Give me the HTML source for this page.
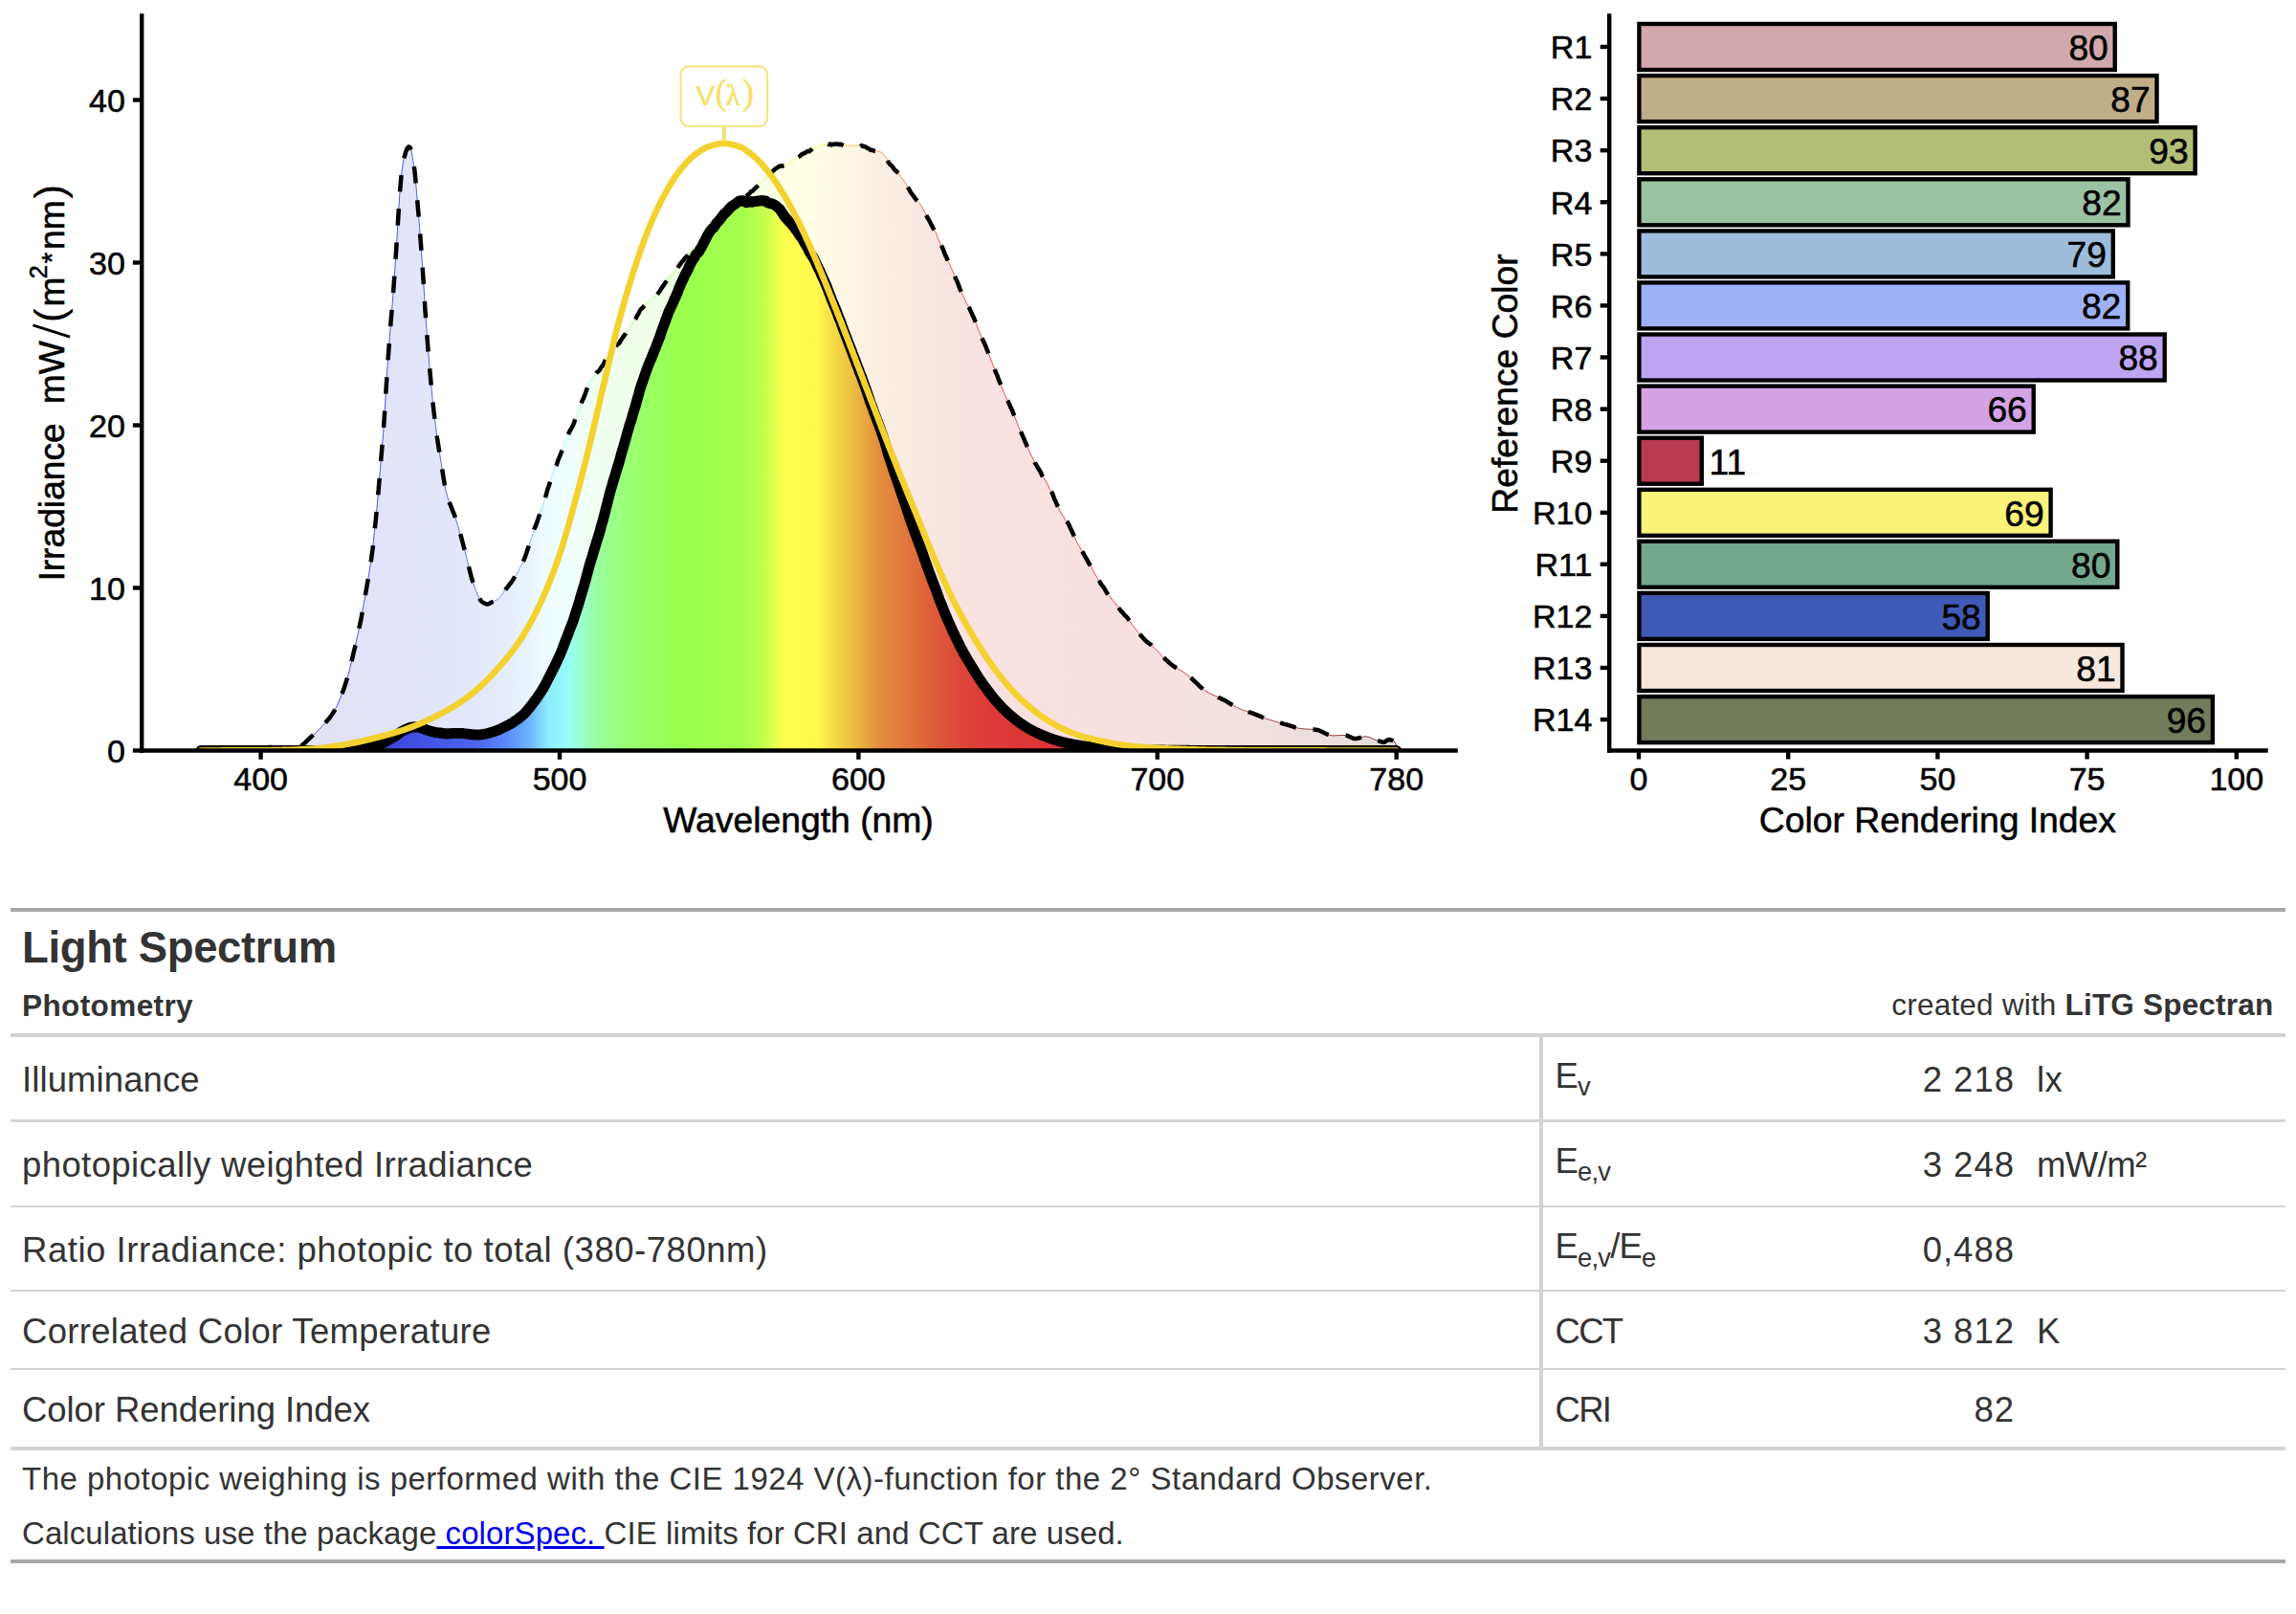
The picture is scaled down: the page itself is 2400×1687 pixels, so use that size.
<!DOCTYPE html>
<html><head><meta charset="utf-8"><title>Light Spectrum</title>
<style>
html,body{margin:0;padding:0;background:#fff;}
body{width:2400px;height:1687px;position:relative;overflow:hidden;font-family:"Liberation Sans",sans-serif;}
sub{font-size:75%;line-height:0;position:relative;vertical-align:baseline;bottom:-0.3em;}
b{font-weight:700}
</style></head>
<body>
<svg width="2400" height="905" viewBox="0 0 2400 905" style="position:absolute;left:0;top:0"><defs><linearGradient id="sp" gradientUnits="userSpaceOnUse" x1="210.1" y1="0" x2="1459.7" y2="0"><stop offset="0.0000" stop-color="rgb(55,40,150)"/><stop offset="0.1000" stop-color="rgb(60,60,200)"/><stop offset="0.1675" stop-color="rgb(63,75,224)"/><stop offset="0.2300" stop-color="rgb(75,100,240)"/><stop offset="0.2565" stop-color="rgb(90,140,250)"/><stop offset="0.2750" stop-color="rgb(110,180,252)"/><stop offset="0.2900" stop-color="rgb(140,235,255)"/><stop offset="0.3063" stop-color="rgb(150,255,250)"/><stop offset="0.3192" stop-color="rgb(155,255,200)"/><stop offset="0.3350" stop-color="rgb(153,255,150)"/><stop offset="0.3613" stop-color="rgb(153,255,110)"/><stop offset="0.4000" stop-color="rgb(153,255,77)"/><stop offset="0.4525" stop-color="rgb(165,255,77)"/><stop offset="0.4713" stop-color="rgb(195,255,77)"/><stop offset="0.4843" stop-color="rgb(245,255,77)"/><stop offset="0.4925" stop-color="rgb(255,255,77)"/><stop offset="0.5150" stop-color="rgb(255,250,77)"/><stop offset="0.5288" stop-color="rgb(245,220,70)"/><stop offset="0.5500" stop-color="rgb(235,180,65)"/><stop offset="0.5650" stop-color="rgb(228,145,62)"/><stop offset="0.5837" stop-color="rgb(225,125,60)"/><stop offset="0.6100" stop-color="rgb(222,95,58)"/><stop offset="0.6362" stop-color="rgb(220,70,56)"/><stop offset="0.6625" stop-color="rgb(220,58,56)"/><stop offset="0.7000" stop-color="rgb(220,52,55)"/><stop offset="0.8000" stop-color="rgb(215,50,52)"/><stop offset="0.8750" stop-color="rgb(170,45,45)"/><stop offset="0.9500" stop-color="rgb(120,35,35)"/><stop offset="1.0000" stop-color="rgb(90,28,28)"/></linearGradient><clipPath id="pc"><rect x="140" y="0" width="1390" height="784.5"/></clipPath></defs><g clip-path="url(#pc)"><path d="M210.1,784.3 L211.7,784.3 L213.2,784.3 L214.8,784.3 L216.4,784.3 L217.9,784.3 L219.5,784.3 L221.1,784.3 L222.6,784.3 L224.2,784.3 L225.7,784.3 L227.3,784.3 L228.9,784.3 L230.4,784.3 L232.0,784.3 L233.6,784.3 L235.1,784.3 L236.7,784.3 L238.2,784.3 L239.8,784.3 L241.4,784.3 L242.9,784.3 L244.5,784.3 L246.0,784.3 L247.6,784.3 L249.2,784.3 L250.7,784.3 L252.3,784.3 L253.9,784.3 L255.4,784.3 L257.0,784.3 L258.5,784.3 L260.1,784.3 L261.7,784.3 L263.2,784.2 L264.8,784.2 L266.4,784.2 L267.9,784.1 L269.5,784.1 L271.0,784.0 L272.6,784.0 L274.2,783.7 L275.7,783.1 L277.3,782.4 L278.8,781.7 L280.4,781.1 L282.0,780.9 L283.5,781.1 L285.1,781.6 L286.7,782.2 L288.2,782.8 L289.8,783.3 L291.3,783.4 L292.9,783.4 L294.5,783.4 L296.0,783.3 L297.6,783.2 L299.2,783.1 L300.7,783.0 L302.3,782.8 L303.8,782.6 L305.4,782.4 L307.0,782.2 L308.5,782.0 L310.1,781.7 L311.7,781.3 L313.2,780.6 L314.8,779.6 L316.3,778.5 L317.9,777.1 L319.5,775.7 L321.0,774.2 L322.6,772.7 L324.1,771.2 L325.7,769.8 L327.3,768.4 L328.8,767.0 L330.4,765.6 L332.0,764.1 L333.5,762.5 L335.1,760.9 L336.6,759.3 L338.2,757.5 L339.8,755.8 L341.3,754.1 L342.9,752.3 L344.5,750.3 L346.0,748.3 L347.6,746.0 L349.1,743.6 L350.7,740.7 L352.3,737.5 L353.8,734.0 L355.4,730.3 L356.9,726.5 L358.5,722.4 L360.1,717.9 L361.6,713.3 L363.2,708.1 L364.8,702.4 L366.3,696.1 L367.9,689.6 L369.4,683.1 L371.0,676.4 L372.6,669.7 L374.1,662.5 L375.7,655.1 L377.3,647.8 L378.8,639.3 L380.4,630.5 L381.9,621.9 L383.5,612.7 L385.1,603.2 L386.6,594.0 L388.2,583.7 L389.8,571.6 L391.3,556.8 L392.9,542.2 L394.4,526.4 L396.0,508.2 L397.6,488.5 L399.1,470.1 L400.7,452.3 L402.2,429.2 L403.8,402.9 L405.4,378.2 L406.9,357.9 L408.5,336.8 L410.1,318.0 L411.6,298.6 L413.2,275.8 L414.7,252.9 L416.3,227.0 L417.9,201.8 L419.4,184.6 L421.0,172.0 L422.6,164.3 L424.1,158.8 L425.7,154.8 L427.2,153.4 L428.8,154.2 L430.4,159.9 L431.9,168.5 L433.5,178.9 L435.0,195.4 L436.6,214.1 L438.2,232.2 L439.7,251.8 L441.3,274.2 L442.9,298.0 L444.4,323.3 L446.0,345.3 L447.5,365.9 L449.1,384.6 L450.7,402.1 L452.2,418.6 L453.8,432.8 L455.4,445.8 L456.9,457.4 L458.5,467.7 L460.0,476.9 L461.6,486.9 L463.2,496.9 L464.7,506.1 L466.3,514.3 L467.9,519.6 L469.4,524.6 L471.0,528.0 L472.5,532.2 L474.1,536.1 L475.7,540.1 L477.2,545.0 L478.8,550.2 L480.3,555.8 L481.9,560.5 L483.5,566.7 L485.0,572.3 L486.6,578.4 L488.2,584.8 L489.7,591.1 L491.3,597.7 L492.8,603.3 L494.4,608.7 L496.0,613.5 L497.5,617.4 L499.1,621.2 L500.7,624.9 L502.2,627.3 L503.8,629.0 L505.3,630.0 L506.9,630.9 L508.5,631.5 L510.0,631.5 L511.6,630.9 L513.1,629.8 L514.7,629.2 L516.3,628.7 L517.8,627.4 L519.4,626.9 L521.0,625.7 L522.5,624.2 L524.1,622.4 L525.6,619.8 L527.2,617.7 L528.8,615.6 L530.3,614.1 L531.9,611.7 L533.5,609.8 L535.0,607.8 L536.6,605.4 L538.1,602.9 L539.7,600.3 L541.3,597.8 L542.8,594.7 L544.4,591.9 L546.0,589.1 L547.5,585.5 L549.1,581.5 L550.6,577.1 L552.2,572.3 L553.8,567.7 L555.3,562.8 L556.9,558.2 L558.4,553.2 L560.0,549.4 L561.6,545.1 L563.1,540.4 L564.7,536.4 L566.3,531.7 L567.8,527.4 L569.4,522.2 L570.9,517.0 L572.5,511.2 L574.1,506.7 L575.6,501.6 L577.2,496.6 L578.8,492.3 L580.3,488.7 L581.9,485.7 L583.4,480.9 L585.0,477.3 L586.6,473.2 L588.1,469.2 L589.7,464.0 L591.2,459.8 L592.8,456.9 L594.4,453.1 L595.9,450.0 L597.5,447.4 L599.1,444.4 L600.6,440.3 L602.2,435.8 L603.7,432.5 L605.3,428.6 L606.9,423.3 L608.4,419.4 L610.0,416.1 L611.6,412.1 L613.1,407.6 L614.7,403.1 L616.2,399.8 L617.8,396.9 L619.4,394.9 L620.9,392.6 L622.5,391.1 L624.0,389.2 L625.6,388.1 L627.2,386.2 L628.7,383.5 L630.3,381.7 L631.9,378.2 L633.4,375.4 L635.0,372.5 L636.5,369.6 L638.1,367.1 L639.7,365.5 L641.2,364.1 L642.8,362.9 L644.4,360.9 L645.9,359.9 L647.5,358.4 L649.0,355.6 L650.6,353.3 L652.2,351.1 L653.7,348.9 L655.3,345.7 L656.9,343.5 L658.4,341.3 L660.0,340.2 L661.5,337.4 L663.1,334.7 L664.7,332.6 L666.2,329.7 L667.8,327.1 L669.3,323.9 L670.9,322.4 L672.5,320.7 L674.0,319.2 L675.6,317.3 L677.2,315.7 L678.7,314.6 L680.3,313.5 L681.8,312.5 L683.4,310.6 L685.0,309.6 L686.5,308.2 L688.1,306.3 L689.7,304.3 L691.2,301.7 L692.8,299.4 L694.3,297.3 L695.9,295.0 L697.5,292.7 L699.0,290.2 L700.6,289.0 L702.2,287.6 L703.7,286.1 L705.3,283.9 L706.8,282.4 L708.4,280.5 L710.0,277.4 L711.5,275.5 L713.1,273.4 L714.6,271.7 L716.2,269.4 L717.8,268.1 L719.3,266.6 L720.9,263.8 L722.5,262.0 L724.0,260.5 L725.6,259.3 L727.1,257.3 L728.7,256.4 L730.3,256.1 L731.8,253.9 L733.4,252.5 L735.0,250.0 L736.5,247.7 L738.1,245.3 L739.6,242.7 L741.2,240.6 L742.8,238.4 L744.3,237.2 L745.9,236.4 L747.4,234.7 L749.0,232.5 L750.6,231.0 L752.1,229.5 L753.7,227.8 L755.3,225.6 L756.8,223.7 L758.4,222.5 L759.9,221.0 L761.5,218.7 L763.1,216.8 L764.6,215.0 L766.2,213.5 L767.8,212.1 L769.3,210.7 L770.9,208.9 L772.4,207.4 L774.0,206.4 L775.6,206.1 L777.1,204.9 L778.7,204.8 L780.2,204.9 L781.8,203.6 L783.4,202.2 L784.9,200.3 L786.5,199.9 L788.1,198.0 L789.6,196.5 L791.2,195.2 L792.7,193.2 L794.3,191.7 L795.9,189.8 L797.4,188.5 L799.0,186.5 L800.6,185.0 L802.1,184.7 L803.7,183.2 L805.2,182.0 L806.8,179.9 L808.4,178.4 L809.9,177.0 L811.5,175.8 L813.1,174.9 L814.6,173.7 L816.2,173.5 L817.7,173.3 L819.3,173.4 L820.9,173.0 L822.4,172.0 L824.0,171.1 L825.5,169.9 L827.1,168.4 L828.7,167.6 L830.2,166.3 L831.8,165.6 L833.4,164.4 L834.9,163.7 L836.5,162.9 L838.0,161.2 L839.6,160.5 L841.2,160.1 L842.7,159.0 L844.3,157.9 L845.9,158.2 L847.4,157.0 L849.0,155.6 L850.5,154.0 L852.1,153.9 L853.7,153.7 L855.2,152.9 L856.8,151.9 L858.4,151.7 L859.9,151.2 L861.5,150.9 L863.0,150.3 L864.6,150.2 L866.2,151.1 L867.7,150.5 L869.3,151.5 L870.8,150.8 L872.4,150.8 L874.0,150.5 L875.5,150.6 L877.1,151.2 L878.7,150.7 L880.2,151.4 L881.8,151.9 L883.3,151.6 L884.9,151.8 L886.5,152.2 L888.0,152.2 L889.6,151.8 L891.2,152.2 L892.7,152.2 L894.3,152.2 L895.8,152.3 L897.4,152.2 L899.0,153.0 L900.5,152.1 L902.1,152.9 L903.6,153.1 L905.2,153.6 L906.8,155.1 L908.3,155.4 L909.9,156.8 L911.5,156.9 L913.0,157.4 L914.6,158.0 L916.1,158.0 L917.7,158.4 L919.3,158.2 L920.8,159.2 L922.4,159.9 L924.0,161.6 L925.5,163.3 L927.1,166.2 L928.6,169.7 L930.2,171.7 L931.8,173.1 L933.3,174.8 L934.9,177.1 L936.5,178.6 L938.0,180.0 L939.6,181.6 L941.1,184.3 L942.7,186.2 L944.3,187.9 L945.8,190.4 L947.4,192.4 L948.9,195.6 L950.5,198.4 L952.1,201.3 L953.6,203.2 L955.2,205.3 L956.8,207.6 L958.3,209.5 L959.9,211.2 L961.4,212.7 L963.0,215.1 L964.6,217.8 L966.1,221.1 L967.7,224.0 L969.3,227.2 L970.8,229.6 L972.4,232.8 L973.9,235.7 L975.5,238.6 L977.1,241.4 L978.6,243.6 L980.2,248.5 L981.7,252.1 L983.3,255.7 L984.9,258.4 L986.4,262.2 L988.0,266.4 L989.6,269.5 L991.1,273.6 L992.7,276.3 L994.2,280.0 L995.8,283.3 L997.4,287.2 L998.9,290.9 L1000.5,294.3 L1002.1,298.4 L1003.6,302.4 L1005.2,305.9 L1006.7,309.6 L1008.3,312.4 L1009.9,315.9 L1011.4,318.9 L1013.0,321.5 L1014.6,325.0 L1016.1,328.3 L1017.7,331.7 L1019.2,335.3 L1020.8,339.6 L1022.4,343.9 L1023.9,347.8 L1025.5,350.9 L1027.0,354.6 L1028.6,358.0 L1030.2,361.5 L1031.7,365.6 L1033.3,369.3 L1034.9,373.5 L1036.4,377.5 L1038.0,381.5 L1039.5,385.4 L1041.1,389.6 L1042.7,393.2 L1044.2,397.5 L1045.8,401.3 L1047.4,405.3 L1048.9,409.7 L1050.5,412.7 L1052.0,416.2 L1053.6,419.3 L1055.2,422.7 L1056.7,426.3 L1058.3,429.6 L1059.8,433.5 L1061.4,437.6 L1063.0,441.4 L1064.5,445.6 L1066.1,449.2 L1067.7,452.6 L1069.2,456.2 L1070.8,459.8 L1072.3,463.3 L1073.9,467.1 L1075.5,470.5 L1077.0,474.0 L1078.6,477.2 L1080.2,480.1 L1081.7,483.7 L1083.3,486.0 L1084.8,488.7 L1086.4,491.3 L1088.0,494.0 L1089.5,497.4 L1091.1,499.7 L1092.7,502.0 L1094.2,504.8 L1095.8,507.8 L1097.3,511.5 L1098.9,513.5 L1100.5,516.7 L1102.0,521.2 L1103.6,524.5 L1105.1,528.2 L1106.7,531.1 L1108.3,534.7 L1109.8,537.2 L1111.4,539.4 L1113.0,542.5 L1114.5,544.3 L1116.1,546.2 L1117.6,549.0 L1119.2,552.7 L1120.8,556.0 L1122.3,559.4 L1123.9,562.9 L1125.5,566.3 L1127.0,569.2 L1128.6,571.7 L1130.1,574.4 L1131.7,577.1 L1133.3,579.9 L1134.8,582.7 L1136.4,585.2 L1137.9,588.2 L1139.5,590.7 L1141.1,593.2 L1142.6,596.3 L1144.2,599.5 L1145.8,602.1 L1147.3,604.6 L1148.9,606.8 L1150.4,609.7 L1152.0,611.8 L1153.6,613.8 L1155.1,616.4 L1156.7,619.2 L1158.3,621.6 L1159.8,623.0 L1161.4,625.0 L1162.9,627.2 L1164.5,629.1 L1166.1,630.4 L1167.6,633.1 L1169.2,635.4 L1170.8,637.4 L1172.3,639.1 L1173.9,640.8 L1175.4,642.7 L1177.0,644.1 L1178.6,646.0 L1180.1,648.0 L1181.7,650.2 L1183.2,652.6 L1184.8,654.7 L1186.4,656.4 L1187.9,658.6 L1189.5,660.7 L1191.1,662.6 L1192.6,664.2 L1194.2,666.1 L1195.7,667.8 L1197.3,669.4 L1198.9,670.7 L1200.4,672.0 L1202.0,673.2 L1203.6,674.3 L1205.1,675.9 L1206.7,677.2 L1208.2,678.6 L1209.8,680.1 L1211.4,682.0 L1212.9,683.7 L1214.5,685.2 L1216.0,686.7 L1217.6,688.5 L1219.2,689.9 L1220.7,691.3 L1222.3,692.7 L1223.9,694.1 L1225.4,695.4 L1227.0,696.4 L1228.5,697.5 L1230.1,698.4 L1231.7,699.3 L1233.2,700.2 L1234.8,701.1 L1236.4,702.1 L1237.9,703.0 L1239.5,704.2 L1241.0,705.5 L1242.6,706.7 L1244.2,707.9 L1245.7,709.2 L1247.3,710.8 L1248.8,712.2 L1250.4,713.7 L1252.0,715.2 L1253.5,716.8 L1255.1,718.2 L1256.7,719.5 L1258.2,720.8 L1259.8,722.0 L1261.3,723.0 L1262.9,723.8 L1264.5,724.7 L1266.0,725.5 L1267.6,726.2 L1269.2,726.9 L1270.7,727.5 L1272.3,728.2 L1273.8,729.0 L1275.4,729.7 L1277.0,730.4 L1278.5,731.2 L1280.1,732.0 L1281.7,732.9 L1283.2,733.8 L1284.8,734.8 L1286.3,735.8 L1287.9,736.7 L1289.5,737.7 L1291.0,738.5 L1292.6,739.3 L1294.1,740.0 L1295.7,740.7 L1297.3,741.3 L1298.8,741.9 L1300.4,742.5 L1302.0,743.0 L1303.5,743.5 L1305.1,744.1 L1306.6,744.6 L1308.2,745.2 L1309.8,745.7 L1311.3,746.3 L1312.9,746.9 L1314.5,747.6 L1316.0,748.2 L1317.6,748.8 L1319.1,749.5 L1320.7,750.1 L1322.3,750.7 L1323.8,751.3 L1325.4,751.8 L1327.0,752.3 L1328.5,752.8 L1330.1,753.3 L1331.6,753.8 L1333.2,754.2 L1334.8,754.6 L1336.3,755.1 L1337.9,755.5 L1339.4,755.9 L1341.0,756.3 L1342.6,756.8 L1344.1,757.2 L1345.7,757.7 L1347.3,758.2 L1348.8,758.7 L1350.4,759.2 L1351.9,759.7 L1353.5,760.2 L1355.1,760.6 L1356.6,761.0 L1358.2,761.3 L1359.8,761.6 L1361.3,761.7 L1362.9,761.9 L1364.4,762.0 L1366.0,762.0 L1367.6,762.1 L1369.1,762.2 L1370.7,762.3 L1372.2,762.4 L1373.8,762.5 L1375.4,762.7 L1376.9,762.9 L1378.5,763.4 L1380.1,764.0 L1381.6,764.7 L1383.2,765.5 L1384.7,766.3 L1386.3,767.0 L1387.9,767.7 L1389.4,768.2 L1391.0,768.6 L1392.6,768.8 L1394.1,768.8 L1395.7,768.8 L1397.2,768.7 L1398.8,768.6 L1400.4,768.6 L1401.9,768.5 L1403.5,768.5 L1405.1,768.5 L1406.6,768.5 L1408.2,768.9 L1409.7,769.6 L1411.3,770.3 L1412.9,771.1 L1414.4,771.7 L1416.0,772.0 L1417.5,772.0 L1419.1,771.7 L1420.7,771.3 L1422.2,770.9 L1423.8,770.4 L1425.4,770.0 L1426.9,769.8 L1428.5,769.9 L1430.0,770.2 L1431.6,770.7 L1433.2,771.4 L1434.7,772.1 L1436.3,772.8 L1437.9,773.4 L1439.4,773.9 L1441.0,774.4 L1442.5,774.9 L1444.1,775.4 L1445.7,775.7 L1447.2,775.7 L1448.8,774.7 L1450.3,773.4 L1451.9,773.1 L1453.5,773.3 L1455.0,773.8 L1456.6,774.7 L1458.2,775.9 L1459.7,779.2 L1459.7,784.5 L210.1,784.5 Z" fill="url(#sp)" fill-opacity="0.15"/><path d="M210.1,784.3 L211.7,784.3 L213.2,784.3 L214.8,784.3 L216.4,784.3 L217.9,784.3 L219.5,784.3 L221.1,784.3 L222.6,784.3 L224.2,784.3 L225.7,784.3 L227.3,784.3 L228.9,784.3 L230.4,784.3 L232.0,784.3 L233.6,784.3 L235.1,784.3 L236.7,784.3 L238.2,784.3 L239.8,784.3 L241.4,784.3 L242.9,784.3 L244.5,784.3 L246.0,784.3 L247.6,784.3 L249.2,784.3 L250.7,784.3 L252.3,784.3 L253.9,784.3 L255.4,784.3 L257.0,784.3 L258.5,784.3 L260.1,784.3 L261.7,784.3 L263.2,784.2 L264.8,784.2 L266.4,784.2 L267.9,784.1 L269.5,784.1 L271.0,784.0 L272.6,784.0 L274.2,783.7 L275.7,783.1 L277.3,782.4 L278.8,781.7 L280.4,781.1 L282.0,780.9 L283.5,781.1 L285.1,781.6 L286.7,782.2 L288.2,782.8 L289.8,783.3 L291.3,783.4 L292.9,783.4 L294.5,783.4 L296.0,783.3 L297.6,783.2 L299.2,783.1 L300.7,783.0 L302.3,782.8 L303.8,782.6 L305.4,782.4 L307.0,782.2 L308.5,782.0 L310.1,781.7 L311.7,781.3 L313.2,780.6 L314.8,779.6 L316.3,778.5 L317.9,777.1 L319.5,775.7 L321.0,774.2 L322.6,772.7 L324.1,771.2 L325.7,769.8 L327.3,768.4 L328.8,767.0 L330.4,765.6 L332.0,764.1 L333.5,762.5 L335.1,760.9 L336.6,759.3 L338.2,757.5 L339.8,755.8 L341.3,754.1 L342.9,752.3 L344.5,750.3 L346.0,748.3 L347.6,746.0 L349.1,743.6 L350.7,740.7 L352.3,737.5 L353.8,734.0 L355.4,730.3 L356.9,726.5 L358.5,722.4 L360.1,717.9 L361.6,713.3 L363.2,708.1 L364.8,702.4 L366.3,696.1 L367.9,689.6 L369.4,683.1 L371.0,676.4 L372.6,669.7 L374.1,662.5 L375.7,655.1 L377.3,647.8 L378.8,639.3 L380.4,630.5 L381.9,621.9 L383.5,612.7 L385.1,603.2 L386.6,594.0 L388.2,583.7 L389.8,571.6 L391.3,556.8 L392.9,542.2 L394.4,526.4 L396.0,508.2 L397.6,488.5 L399.1,470.1 L400.7,452.3 L402.2,429.2 L403.8,402.9 L405.4,378.2 L406.9,357.9 L408.5,336.8 L410.1,318.0 L411.6,298.6 L413.2,275.8 L414.7,252.9 L416.3,227.0 L417.9,201.8 L419.4,184.6 L421.0,172.0 L422.6,164.3 L424.1,158.8 L425.7,154.8 L427.2,153.4 L428.8,154.2 L430.4,159.9 L431.9,168.5 L433.5,178.9 L435.0,195.4 L436.6,214.1 L438.2,232.2 L439.7,251.8 L441.3,274.2 L442.9,298.0 L444.4,323.3 L446.0,345.3 L447.5,365.9 L449.1,384.6 L450.7,402.1 L452.2,418.6 L453.8,432.8 L455.4,445.8 L456.9,457.4 L458.5,467.7 L460.0,476.9 L461.6,486.9 L463.2,496.9 L464.7,506.1 L466.3,514.3 L467.9,519.6 L469.4,524.6 L471.0,528.0 L472.5,532.2 L474.1,536.1 L475.7,540.1 L477.2,545.0 L478.8,550.2 L480.3,555.8 L481.9,560.5 L483.5,566.7 L485.0,572.3 L486.6,578.4 L488.2,584.8 L489.7,591.1 L491.3,597.7 L492.8,603.3 L494.4,608.7 L496.0,613.5 L497.5,617.4 L499.1,621.2 L500.7,624.9 L502.2,627.3 L503.8,629.0 L505.3,630.0 L506.9,630.9 L508.5,631.5 L510.0,631.5 L511.6,630.9 L513.1,629.8 L514.7,629.2 L516.3,628.7 L517.8,627.4 L519.4,626.9 L521.0,625.7 L522.5,624.2 L524.1,622.4 L525.6,619.8 L527.2,617.7 L528.8,615.6 L530.3,614.1 L531.9,611.7 L533.5,609.8 L535.0,607.8 L536.6,605.4 L538.1,602.9 L539.7,600.3 L541.3,597.8 L542.8,594.7 L544.4,591.9 L546.0,589.1 L547.5,585.5 L549.1,581.5 L550.6,577.1 L552.2,572.3 L553.8,567.7 L555.3,562.8 L556.9,558.2 L558.4,553.2 L560.0,549.4 L561.6,545.1 L563.1,540.4 L564.7,536.4 L566.3,531.7 L567.8,527.4 L569.4,522.2 L570.9,517.0 L572.5,511.2 L574.1,506.7 L575.6,501.6 L577.2,496.6 L578.8,492.3 L580.3,488.7 L581.9,485.7 L583.4,480.9 L585.0,477.3 L586.6,473.2 L588.1,469.2 L589.7,464.0 L591.2,459.8 L592.8,456.9 L594.4,453.1 L595.9,450.0 L597.5,447.4 L599.1,444.4 L600.6,440.3 L602.2,435.8 L603.7,432.5 L605.3,428.6 L606.9,423.3 L608.4,419.4 L610.0,416.1 L611.6,412.1 L613.1,407.6 L614.7,403.1 L616.2,399.8 L617.8,396.9 L619.4,394.9 L620.9,392.6 L622.5,391.1 L624.0,389.2 L625.6,388.1 L627.2,386.2 L628.7,383.5 L630.3,381.7 L631.9,378.2 L633.4,375.4 L635.0,372.5 L636.5,369.6 L638.1,367.1 L639.7,365.5 L641.2,364.1 L642.8,362.9 L644.4,360.9 L645.9,359.9 L647.5,358.4 L649.0,355.6 L650.6,353.3 L652.2,351.1 L653.7,348.9 L655.3,345.7 L656.9,343.5 L658.4,341.3 L660.0,340.2 L661.5,337.4 L663.1,334.7 L664.7,332.6 L666.2,329.7 L667.8,327.1 L669.3,323.9 L670.9,322.4 L672.5,320.7 L674.0,319.2 L675.6,317.3 L677.2,315.7 L678.7,314.6 L680.3,313.5 L681.8,312.5 L683.4,310.6 L685.0,309.6 L686.5,308.2 L688.1,306.3 L689.7,304.3 L691.2,301.7 L692.8,299.4 L694.3,297.3 L695.9,295.0 L697.5,292.7 L699.0,290.2 L700.6,289.0 L702.2,287.6 L703.7,286.1 L705.3,283.9 L706.8,282.4 L708.4,280.5 L710.0,277.4 L711.5,275.5 L713.1,273.4 L714.6,271.7 L716.2,269.4 L717.8,268.1 L719.3,266.6 L720.9,263.8 L722.5,262.0 L724.0,260.5 L725.6,259.3 L727.1,257.3 L728.7,256.4 L730.3,256.1 L731.8,253.9 L733.4,252.5 L735.0,250.0 L736.5,247.7 L738.1,245.3 L739.6,242.7 L741.2,240.6 L742.8,238.4 L744.3,237.2 L745.9,236.4 L747.4,234.7 L749.0,232.5 L750.6,231.0 L752.1,229.5 L753.7,227.8 L755.3,225.6 L756.8,223.7 L758.4,222.5 L759.9,221.0 L761.5,218.7 L763.1,216.8 L764.6,215.0 L766.2,213.5 L767.8,212.1 L769.3,210.7 L770.9,208.9 L772.4,207.4 L774.0,206.4 L775.6,206.1 L777.1,204.9 L778.7,204.8 L780.2,204.9 L781.8,203.6 L783.4,202.2 L784.9,200.3 L786.5,199.9 L788.1,198.0 L789.6,196.5 L791.2,195.2 L792.7,193.2 L794.3,191.7 L795.9,189.8 L797.4,188.5 L799.0,186.5 L800.6,185.0 L802.1,184.7 L803.7,183.2 L805.2,182.0 L806.8,179.9 L808.4,178.4 L809.9,177.0 L811.5,175.8 L813.1,174.9 L814.6,173.7 L816.2,173.5 L817.7,173.3 L819.3,173.4 L820.9,173.0 L822.4,172.0 L824.0,171.1 L825.5,169.9 L827.1,168.4 L828.7,167.6 L830.2,166.3 L831.8,165.6 L833.4,164.4 L834.9,163.7 L836.5,162.9 L838.0,161.2 L839.6,160.5 L841.2,160.1 L842.7,159.0 L844.3,157.9 L845.9,158.2 L847.4,157.0 L849.0,155.6 L850.5,154.0 L852.1,153.9 L853.7,153.7 L855.2,152.9 L856.8,151.9 L858.4,151.7 L859.9,151.2 L861.5,150.9 L863.0,150.3 L864.6,150.2 L866.2,151.1 L867.7,150.5 L869.3,151.5 L870.8,150.8 L872.4,150.8 L874.0,150.5 L875.5,150.6 L877.1,151.2 L878.7,150.7 L880.2,151.4 L881.8,151.9 L883.3,151.6 L884.9,151.8 L886.5,152.2 L888.0,152.2 L889.6,151.8 L891.2,152.2 L892.7,152.2 L894.3,152.2 L895.8,152.3 L897.4,152.2 L899.0,153.0 L900.5,152.1 L902.1,152.9 L903.6,153.1 L905.2,153.6 L906.8,155.1 L908.3,155.4 L909.9,156.8 L911.5,156.9 L913.0,157.4 L914.6,158.0 L916.1,158.0 L917.7,158.4 L919.3,158.2 L920.8,159.2 L922.4,159.9 L924.0,161.6 L925.5,163.3 L927.1,166.2 L928.6,169.7 L930.2,171.7 L931.8,173.1 L933.3,174.8 L934.9,177.1 L936.5,178.6 L938.0,180.0 L939.6,181.6 L941.1,184.3 L942.7,186.2 L944.3,187.9 L945.8,190.4 L947.4,192.4 L948.9,195.6 L950.5,198.4 L952.1,201.3 L953.6,203.2 L955.2,205.3 L956.8,207.6 L958.3,209.5 L959.9,211.2 L961.4,212.7 L963.0,215.1 L964.6,217.8 L966.1,221.1 L967.7,224.0 L969.3,227.2 L970.8,229.6 L972.4,232.8 L973.9,235.7 L975.5,238.6 L977.1,241.4 L978.6,243.6 L980.2,248.5 L981.7,252.1 L983.3,255.7 L984.9,258.4 L986.4,262.2 L988.0,266.4 L989.6,269.5 L991.1,273.6 L992.7,276.3 L994.2,280.0 L995.8,283.3 L997.4,287.2 L998.9,290.9 L1000.5,294.3 L1002.1,298.4 L1003.6,302.4 L1005.2,305.9 L1006.7,309.6 L1008.3,312.4 L1009.9,315.9 L1011.4,318.9 L1013.0,321.5 L1014.6,325.0 L1016.1,328.3 L1017.7,331.7 L1019.2,335.3 L1020.8,339.6 L1022.4,343.9 L1023.9,347.8 L1025.5,350.9 L1027.0,354.6 L1028.6,358.0 L1030.2,361.5 L1031.7,365.6 L1033.3,369.3 L1034.9,373.5 L1036.4,377.5 L1038.0,381.5 L1039.5,385.4 L1041.1,389.6 L1042.7,393.2 L1044.2,397.5 L1045.8,401.3 L1047.4,405.3 L1048.9,409.7 L1050.5,412.7 L1052.0,416.2 L1053.6,419.3 L1055.2,422.7 L1056.7,426.3 L1058.3,429.6 L1059.8,433.5 L1061.4,437.6 L1063.0,441.4 L1064.5,445.6 L1066.1,449.2 L1067.7,452.6 L1069.2,456.2 L1070.8,459.8 L1072.3,463.3 L1073.9,467.1 L1075.5,470.5 L1077.0,474.0 L1078.6,477.2 L1080.2,480.1 L1081.7,483.7 L1083.3,486.0 L1084.8,488.7 L1086.4,491.3 L1088.0,494.0 L1089.5,497.4 L1091.1,499.7 L1092.7,502.0 L1094.2,504.8 L1095.8,507.8 L1097.3,511.5 L1098.9,513.5 L1100.5,516.7 L1102.0,521.2 L1103.6,524.5 L1105.1,528.2 L1106.7,531.1 L1108.3,534.7 L1109.8,537.2 L1111.4,539.4 L1113.0,542.5 L1114.5,544.3 L1116.1,546.2 L1117.6,549.0 L1119.2,552.7 L1120.8,556.0 L1122.3,559.4 L1123.9,562.9 L1125.5,566.3 L1127.0,569.2 L1128.6,571.7 L1130.1,574.4 L1131.7,577.1 L1133.3,579.9 L1134.8,582.7 L1136.4,585.2 L1137.9,588.2 L1139.5,590.7 L1141.1,593.2 L1142.6,596.3 L1144.2,599.5 L1145.8,602.1 L1147.3,604.6 L1148.9,606.8 L1150.4,609.7 L1152.0,611.8 L1153.6,613.8 L1155.1,616.4 L1156.7,619.2 L1158.3,621.6 L1159.8,623.0 L1161.4,625.0 L1162.9,627.2 L1164.5,629.1 L1166.1,630.4 L1167.6,633.1 L1169.2,635.4 L1170.8,637.4 L1172.3,639.1 L1173.9,640.8 L1175.4,642.7 L1177.0,644.1 L1178.6,646.0 L1180.1,648.0 L1181.7,650.2 L1183.2,652.6 L1184.8,654.7 L1186.4,656.4 L1187.9,658.6 L1189.5,660.7 L1191.1,662.6 L1192.6,664.2 L1194.2,666.1 L1195.7,667.8 L1197.3,669.4 L1198.9,670.7 L1200.4,672.0 L1202.0,673.2 L1203.6,674.3 L1205.1,675.9 L1206.7,677.2 L1208.2,678.6 L1209.8,680.1 L1211.4,682.0 L1212.9,683.7 L1214.5,685.2 L1216.0,686.7 L1217.6,688.5 L1219.2,689.9 L1220.7,691.3 L1222.3,692.7 L1223.9,694.1 L1225.4,695.4 L1227.0,696.4 L1228.5,697.5 L1230.1,698.4 L1231.7,699.3 L1233.2,700.2 L1234.8,701.1 L1236.4,702.1 L1237.9,703.0 L1239.5,704.2 L1241.0,705.5 L1242.6,706.7 L1244.2,707.9 L1245.7,709.2 L1247.3,710.8 L1248.8,712.2 L1250.4,713.7 L1252.0,715.2 L1253.5,716.8 L1255.1,718.2 L1256.7,719.5 L1258.2,720.8 L1259.8,722.0 L1261.3,723.0 L1262.9,723.8 L1264.5,724.7 L1266.0,725.5 L1267.6,726.2 L1269.2,726.9 L1270.7,727.5 L1272.3,728.2 L1273.8,729.0 L1275.4,729.7 L1277.0,730.4 L1278.5,731.2 L1280.1,732.0 L1281.7,732.9 L1283.2,733.8 L1284.8,734.8 L1286.3,735.8 L1287.9,736.7 L1289.5,737.7 L1291.0,738.5 L1292.6,739.3 L1294.1,740.0 L1295.7,740.7 L1297.3,741.3 L1298.8,741.9 L1300.4,742.5 L1302.0,743.0 L1303.5,743.5 L1305.1,744.1 L1306.6,744.6 L1308.2,745.2 L1309.8,745.7 L1311.3,746.3 L1312.9,746.9 L1314.5,747.6 L1316.0,748.2 L1317.6,748.8 L1319.1,749.5 L1320.7,750.1 L1322.3,750.7 L1323.8,751.3 L1325.4,751.8 L1327.0,752.3 L1328.5,752.8 L1330.1,753.3 L1331.6,753.8 L1333.2,754.2 L1334.8,754.6 L1336.3,755.1 L1337.9,755.5 L1339.4,755.9 L1341.0,756.3 L1342.6,756.8 L1344.1,757.2 L1345.7,757.7 L1347.3,758.2 L1348.8,758.7 L1350.4,759.2 L1351.9,759.7 L1353.5,760.2 L1355.1,760.6 L1356.6,761.0 L1358.2,761.3 L1359.8,761.6 L1361.3,761.7 L1362.9,761.9 L1364.4,762.0 L1366.0,762.0 L1367.6,762.1 L1369.1,762.2 L1370.7,762.3 L1372.2,762.4 L1373.8,762.5 L1375.4,762.7 L1376.9,762.9 L1378.5,763.4 L1380.1,764.0 L1381.6,764.7 L1383.2,765.5 L1384.7,766.3 L1386.3,767.0 L1387.9,767.7 L1389.4,768.2 L1391.0,768.6 L1392.6,768.8 L1394.1,768.8 L1395.7,768.8 L1397.2,768.7 L1398.8,768.6 L1400.4,768.6 L1401.9,768.5 L1403.5,768.5 L1405.1,768.5 L1406.6,768.5 L1408.2,768.9 L1409.7,769.6 L1411.3,770.3 L1412.9,771.1 L1414.4,771.7 L1416.0,772.0 L1417.5,772.0 L1419.1,771.7 L1420.7,771.3 L1422.2,770.9 L1423.8,770.4 L1425.4,770.0 L1426.9,769.8 L1428.5,769.9 L1430.0,770.2 L1431.6,770.7 L1433.2,771.4 L1434.7,772.1 L1436.3,772.8 L1437.9,773.4 L1439.4,773.9 L1441.0,774.4 L1442.5,774.9 L1444.1,775.4 L1445.7,775.7 L1447.2,775.7 L1448.8,774.7 L1450.3,773.4 L1451.9,773.1 L1453.5,773.3 L1455.0,773.8 L1456.6,774.7 L1458.2,775.9 L1459.7,779.2" fill="none" stroke="url(#sp)" stroke-width="0.9"/><path d="M210.1,784.5 L211.7,784.5 L213.2,784.5 L214.8,784.5 L216.4,784.5 L217.9,784.5 L219.5,784.5 L221.1,784.5 L222.6,784.5 L224.2,784.5 L225.7,784.5 L227.3,784.5 L228.9,784.5 L230.4,784.5 L232.0,784.5 L233.6,784.5 L235.1,784.5 L236.7,784.5 L238.2,784.5 L239.8,784.5 L241.4,784.5 L242.9,784.5 L244.5,784.5 L246.0,784.5 L247.6,784.5 L249.2,784.5 L250.7,784.5 L252.3,784.5 L253.9,784.5 L255.4,784.5 L257.0,784.5 L258.5,784.5 L260.1,784.5 L261.7,784.5 L263.2,784.5 L264.8,784.5 L266.4,784.5 L267.9,784.5 L269.5,784.5 L271.0,784.5 L272.6,784.5 L274.2,784.5 L275.7,784.5 L277.3,784.5 L278.8,784.5 L280.4,784.5 L282.0,784.5 L283.5,784.5 L285.1,784.5 L286.7,784.5 L288.2,784.5 L289.8,784.5 L291.3,784.5 L292.9,784.5 L294.5,784.5 L296.0,784.5 L297.6,784.5 L299.2,784.5 L300.7,784.5 L302.3,784.5 L303.8,784.5 L305.4,784.5 L307.0,784.5 L308.5,784.5 L310.1,784.5 L311.7,784.5 L313.2,784.5 L314.8,784.5 L316.3,784.5 L317.9,784.5 L319.5,784.5 L321.0,784.5 L322.6,784.5 L324.1,784.5 L325.7,784.5 L327.3,784.5 L328.8,784.4 L330.4,784.4 L332.0,784.4 L333.5,784.4 L335.1,784.4 L336.6,784.4 L338.2,784.4 L339.8,784.4 L341.3,784.3 L342.9,784.3 L344.5,784.3 L346.0,784.3 L347.6,784.2 L349.1,784.2 L350.7,784.2 L352.3,784.1 L353.8,784.1 L355.4,784.0 L356.9,784.0 L358.5,783.9 L360.1,783.8 L361.6,783.8 L363.2,783.7 L364.8,783.6 L366.3,783.5 L367.9,783.4 L369.4,783.2 L371.0,783.1 L372.6,782.9 L374.1,782.8 L375.7,782.6 L377.3,782.4 L378.8,782.2 L380.4,782.0 L381.9,781.8 L383.5,781.5 L385.1,781.2 L386.6,781.0 L388.2,780.6 L389.8,780.3 L391.3,779.8 L392.9,779.4 L394.4,778.9 L396.0,778.3 L397.6,777.7 L399.1,777.1 L400.7,776.4 L402.2,775.6 L403.8,774.7 L405.4,773.8 L406.9,773.0 L408.5,772.1 L410.1,771.3 L411.6,770.4 L413.2,769.3 L414.7,768.3 L416.3,767.0 L417.9,765.8 L419.4,764.8 L421.0,763.9 L422.6,763.1 L424.1,762.4 L425.7,761.7 L427.2,761.1 L428.8,760.5 L430.4,760.2 L431.9,760.0 L433.5,759.8 L435.0,759.9 L436.6,760.1 L438.2,760.3 L439.7,760.6 L441.3,761.1 L442.9,761.7 L444.4,762.4 L446.0,762.9 L447.5,763.5 L449.1,763.9 L450.7,764.4 L452.2,764.8 L453.8,765.2 L455.4,765.5 L456.9,765.7 L458.5,765.9 L460.0,766.0 L461.6,766.3 L463.2,766.5 L464.7,766.7 L466.3,766.9 L467.9,766.8 L469.4,766.8 L471.0,766.7 L472.5,766.6 L474.1,766.5 L475.7,766.4 L477.2,766.4 L478.8,766.4 L480.3,766.5 L481.9,766.5 L483.5,766.6 L485.0,766.7 L486.6,766.9 L488.2,767.1 L489.7,767.3 L491.3,767.5 L492.8,767.7 L494.4,767.8 L496.0,767.9 L497.5,767.9 L499.1,768.0 L500.7,768.0 L502.2,767.9 L503.8,767.7 L505.3,767.5 L506.9,767.2 L508.5,766.9 L510.0,766.5 L511.6,766.1 L513.1,765.5 L514.7,765.0 L516.3,764.6 L517.8,764.0 L519.4,763.5 L521.0,762.9 L522.5,762.2 L524.1,761.5 L525.6,760.7 L527.2,759.9 L528.8,759.1 L530.3,758.4 L531.9,757.5 L533.5,756.6 L535.0,755.8 L536.6,754.8 L538.1,753.7 L539.7,752.7 L541.3,751.6 L542.8,750.4 L544.4,749.1 L546.0,747.9 L547.5,746.4 L549.1,744.9 L550.6,743.1 L552.2,741.3 L553.8,739.4 L555.3,737.4 L556.9,735.4 L558.4,733.2 L560.0,731.2 L561.6,729.0 L563.1,726.7 L564.7,724.4 L566.3,721.9 L567.8,719.5 L569.4,716.7 L570.9,713.8 L572.5,710.6 L574.1,707.7 L575.6,704.6 L577.2,701.4 L578.8,698.2 L580.3,695.2 L581.9,692.2 L583.4,688.6 L585.0,685.3 L586.6,681.6 L588.1,677.8 L589.7,673.5 L591.2,669.4 L592.8,665.5 L594.4,661.3 L595.9,657.2 L597.5,653.2 L599.1,649.0 L600.6,644.3 L602.2,639.3 L603.7,634.7 L605.3,629.7 L606.9,624.0 L608.4,618.8 L610.0,613.8 L611.6,608.3 L613.1,602.4 L614.7,596.5 L616.2,591.0 L617.8,585.6 L619.4,580.6 L620.9,575.3 L622.5,570.3 L624.0,565.0 L625.6,560.2 L627.2,554.8 L628.7,549.0 L630.3,543.7 L631.9,537.4 L633.4,531.4 L635.0,525.3 L636.5,519.1 L638.1,513.1 L639.7,507.7 L641.2,502.5 L642.8,497.4 L644.4,491.8 L645.9,487.0 L647.5,482.0 L649.0,476.1 L650.6,470.6 L652.2,465.2 L653.7,459.9 L655.3,453.8 L656.9,448.5 L658.4,443.2 L660.0,438.9 L661.5,433.2 L663.1,427.7 L664.7,422.7 L666.2,417.0 L667.8,411.5 L669.3,405.7 L670.9,401.1 L672.5,396.6 L674.0,392.2 L675.6,387.5 L677.2,383.3 L678.7,379.4 L680.3,375.7 L681.8,372.1 L683.4,367.8 L685.0,364.3 L686.5,360.4 L688.1,356.3 L689.7,352.0 L691.2,347.3 L692.8,342.9 L694.3,338.8 L695.9,334.5 L697.5,330.2 L699.0,325.9 L700.6,322.6 L702.2,319.4 L703.7,316.0 L705.3,312.1 L706.8,308.9 L708.4,305.3 L710.0,300.7 L711.5,297.3 L713.1,293.8 L714.6,290.6 L716.2,287.0 L717.8,284.2 L719.3,281.4 L720.9,277.5 L722.5,274.4 L724.0,271.8 L725.6,269.7 L727.1,266.7 L728.7,264.9 L730.3,263.7 L731.8,260.6 L733.4,258.4 L735.0,255.0 L736.5,252.0 L738.1,249.0 L739.6,245.9 L741.2,243.3 L742.8,240.8 L744.3,239.1 L745.9,238.0 L747.4,235.9 L749.0,233.3 L750.6,231.6 L752.1,229.9 L753.7,228.0 L755.3,225.7 L756.8,223.7 L758.4,222.5 L759.9,221.1 L761.5,219.1 L763.1,217.4 L764.6,215.9 L766.2,214.8 L767.8,213.7 L769.3,212.7 L770.9,211.3 L772.4,210.3 L774.0,209.8 L775.6,210.2 L777.1,209.7 L778.7,210.5 L780.2,211.7 L781.8,211.4 L783.4,211.1 L784.9,210.5 L786.5,211.3 L788.1,210.6 L789.6,210.3 L791.2,210.4 L792.7,209.9 L794.3,209.9 L795.9,209.6 L797.4,210.0 L799.0,209.8 L800.6,210.2 L802.1,211.7 L803.7,212.1 L805.2,212.8 L806.8,212.8 L808.4,213.5 L809.9,214.3 L811.5,215.5 L813.1,216.8 L814.6,218.1 L816.2,220.3 L817.7,222.5 L819.3,225.1 L820.9,227.2 L822.4,228.9 L824.0,230.7 L825.5,232.4 L827.1,233.8 L828.7,235.9 L830.2,237.7 L831.8,240.0 L833.4,242.0 L834.9,244.4 L836.5,246.8 L838.0,248.5 L839.6,251.2 L841.2,254.1 L842.7,256.6 L844.3,259.0 L845.9,262.8 L847.4,265.2 L849.0,267.6 L850.5,269.8 L852.1,273.3 L853.7,276.8 L855.2,279.8 L856.8,282.8 L858.4,286.4 L859.9,289.8 L861.5,293.3 L863.0,296.7 L864.6,300.5 L866.2,305.0 L867.7,308.4 L869.3,313.1 L870.8,316.5 L872.4,320.3 L874.0,324.1 L875.5,328.1 L877.1,332.5 L878.7,336.1 L880.2,340.6 L881.8,344.9 L883.3,348.7 L884.9,352.9 L886.5,357.1 L888.0,361.2 L889.6,365.0 L891.2,369.3 L892.7,373.4 L894.3,377.4 L895.8,381.6 L897.4,385.5 L899.0,390.1 L900.5,393.6 L902.1,398.1 L903.6,402.3 L905.2,406.6 L906.8,411.6 L908.3,415.8 L909.9,420.7 L911.5,424.7 L913.0,429.1 L914.6,433.4 L916.1,437.4 L917.7,441.7 L919.3,445.6 L920.8,450.1 L922.4,454.5 L924.0,459.3 L925.5,464.2 L927.1,469.6 L928.6,475.3 L930.2,480.1 L931.8,484.6 L933.3,489.2 L934.9,494.1 L936.5,498.6 L938.0,503.0 L939.6,507.5 L941.1,512.4 L942.7,516.9 L944.3,521.3 L945.8,526.0 L947.4,530.5 L948.9,535.4 L950.5,540.1 L952.1,544.8 L953.6,549.1 L955.2,553.4 L956.8,557.8 L958.3,562.0 L959.9,566.1 L961.4,570.1 L963.0,574.4 L964.6,578.9 L966.1,583.5 L967.7,587.9 L969.3,592.4 L970.8,596.6 L972.4,600.9 L973.9,605.1 L975.5,609.3 L977.1,613.3 L978.6,617.1 L980.2,621.7 L981.7,625.9 L983.3,630.0 L984.9,633.7 L986.4,637.7 L988.0,641.7 L989.6,645.3 L991.1,649.1 L992.7,652.4 L994.2,655.9 L995.8,659.3 L997.4,662.7 L998.9,666.0 L1000.5,669.1 L1002.1,672.4 L1003.6,675.5 L1005.2,678.5 L1006.7,681.4 L1008.3,684.2 L1009.9,687.0 L1011.4,689.6 L1013.0,692.1 L1014.6,694.8 L1016.1,697.3 L1017.7,699.8 L1019.2,702.3 L1020.8,704.9 L1022.4,707.4 L1023.9,709.8 L1025.5,712.0 L1027.0,714.3 L1028.6,716.4 L1030.2,718.6 L1031.7,720.7 L1033.3,722.8 L1034.9,724.9 L1036.4,726.9 L1038.0,728.8 L1039.5,730.7 L1041.1,732.6 L1042.7,734.3 L1044.2,736.1 L1045.8,737.8 L1047.4,739.5 L1048.9,741.1 L1050.5,742.6 L1052.0,744.0 L1053.6,745.4 L1055.2,746.8 L1056.7,748.1 L1058.3,749.4 L1059.8,750.7 L1061.4,752.0 L1063.0,753.2 L1064.5,754.4 L1066.1,755.6 L1067.7,756.6 L1069.2,757.7 L1070.8,758.7 L1072.3,759.7 L1073.9,760.7 L1075.5,761.6 L1077.0,762.5 L1078.6,763.4 L1080.2,764.2 L1081.7,765.0 L1083.3,765.7 L1084.8,766.5 L1086.4,767.1 L1088.0,767.8 L1089.5,768.5 L1091.1,769.1 L1092.7,769.7 L1094.2,770.3 L1095.8,770.9 L1097.3,771.5 L1098.9,772.0 L1100.5,772.6 L1102.0,773.1 L1103.6,773.6 L1105.1,774.1 L1106.7,774.6 L1108.3,775.1 L1109.8,775.5 L1111.4,775.8 L1113.0,776.2 L1114.5,776.6 L1116.1,776.9 L1117.6,777.2 L1119.2,777.5 L1120.8,777.9 L1122.3,778.2 L1123.9,778.5 L1125.5,778.8 L1127.0,779.0 L1128.6,779.2 L1130.1,779.5 L1131.7,779.7 L1133.3,779.9 L1134.8,780.1 L1136.4,780.3 L1137.9,780.5 L1139.5,780.6 L1141.1,780.8 L1142.6,781.0 L1144.2,781.1 L1145.8,781.3 L1147.3,781.4 L1148.9,781.6 L1150.4,781.7 L1152.0,781.8 L1153.6,782.0 L1155.1,782.1 L1156.7,782.2 L1158.3,782.3 L1159.8,782.4 L1161.4,782.5 L1162.9,782.6 L1164.5,782.7 L1166.1,782.8 L1167.6,782.9 L1169.2,783.0 L1170.8,783.0 L1172.3,783.1 L1173.9,783.2 L1175.4,783.2 L1177.0,783.3 L1178.6,783.4 L1180.1,783.4 L1181.7,783.5 L1183.2,783.5 L1184.8,783.6 L1186.4,783.6 L1187.9,783.7 L1189.5,783.7 L1191.1,783.8 L1192.6,783.8 L1194.2,783.8 L1195.7,783.9 L1197.3,783.9 L1198.9,783.9 L1200.4,783.9 L1202.0,784.0 L1203.6,784.0 L1205.1,784.0 L1206.7,784.0 L1208.2,784.1 L1209.8,784.1 L1211.4,784.1 L1212.9,784.1 L1214.5,784.1 L1216.0,784.1 L1217.6,784.2 L1219.2,784.2 L1220.7,784.2 L1222.3,784.2 L1223.9,784.2 L1225.4,784.2 L1227.0,784.3 L1228.5,784.3 L1230.1,784.3 L1231.7,784.3 L1233.2,784.3 L1234.8,784.3 L1236.4,784.3 L1237.9,784.3 L1239.5,784.3 L1241.0,784.3 L1242.6,784.3 L1244.2,784.4 L1245.7,784.4 L1247.3,784.4 L1248.8,784.4 L1250.4,784.4 L1252.0,784.4 L1253.5,784.4 L1255.1,784.4 L1256.7,784.4 L1258.2,784.4 L1259.8,784.4 L1261.3,784.4 L1262.9,784.4 L1264.5,784.4 L1266.0,784.4 L1267.6,784.4 L1269.2,784.4 L1270.7,784.4 L1272.3,784.4 L1273.8,784.4 L1275.4,784.4 L1277.0,784.4 L1278.5,784.5 L1280.1,784.5 L1281.7,784.5 L1283.2,784.5 L1284.8,784.5 L1286.3,784.5 L1287.9,784.5 L1289.5,784.5 L1291.0,784.5 L1292.6,784.5 L1294.1,784.5 L1295.7,784.5 L1297.3,784.5 L1298.8,784.5 L1300.4,784.5 L1302.0,784.5 L1303.5,784.5 L1305.1,784.5 L1306.6,784.5 L1308.2,784.5 L1309.8,784.5 L1311.3,784.5 L1312.9,784.5 L1314.5,784.5 L1316.0,784.5 L1317.6,784.5 L1319.1,784.5 L1320.7,784.5 L1322.3,784.5 L1323.8,784.5 L1325.4,784.5 L1327.0,784.5 L1328.5,784.5 L1330.1,784.5 L1331.6,784.5 L1333.2,784.5 L1334.8,784.5 L1336.3,784.5 L1337.9,784.5 L1339.4,784.5 L1341.0,784.5 L1342.6,784.5 L1344.1,784.5 L1345.7,784.5 L1347.3,784.5 L1348.8,784.5 L1350.4,784.5 L1351.9,784.5 L1353.5,784.5 L1355.1,784.5 L1356.6,784.5 L1358.2,784.5 L1359.8,784.5 L1361.3,784.5 L1362.9,784.5 L1364.4,784.5 L1366.0,784.5 L1367.6,784.5 L1369.1,784.5 L1370.7,784.5 L1372.2,784.5 L1373.8,784.5 L1375.4,784.5 L1376.9,784.5 L1378.5,784.5 L1380.1,784.5 L1381.6,784.5 L1383.2,784.5 L1384.7,784.5 L1386.3,784.5 L1387.9,784.5 L1389.4,784.5 L1391.0,784.5 L1392.6,784.5 L1394.1,784.5 L1395.7,784.5 L1397.2,784.5 L1398.8,784.5 L1400.4,784.5 L1401.9,784.5 L1403.5,784.5 L1405.1,784.5 L1406.6,784.5 L1408.2,784.5 L1409.7,784.5 L1411.3,784.5 L1412.9,784.5 L1414.4,784.5 L1416.0,784.5 L1417.5,784.5 L1419.1,784.5 L1420.7,784.5 L1422.2,784.5 L1423.8,784.5 L1425.4,784.5 L1426.9,784.5 L1428.5,784.5 L1430.0,784.5 L1431.6,784.5 L1433.2,784.5 L1434.7,784.5 L1436.3,784.5 L1437.9,784.5 L1439.4,784.5 L1441.0,784.5 L1442.5,784.5 L1444.1,784.5 L1445.7,784.5 L1447.2,784.5 L1448.8,784.5 L1450.3,784.5 L1451.9,784.5 L1453.5,784.5 L1455.0,784.5 L1456.6,784.5 L1458.2,784.5 L1459.7,784.5 L1459.7,784.5 L210.1,784.5 Z" fill="url(#sp)"/><path d="M210.1,784.5 L211.7,784.5 L213.2,784.5 L214.8,784.5 L216.4,784.5 L217.9,784.5 L219.5,784.5 L221.1,784.5 L222.6,784.5 L224.2,784.5 L225.7,784.5 L227.3,784.5 L228.9,784.5 L230.4,784.5 L232.0,784.5 L233.6,784.5 L235.1,784.5 L236.7,784.5 L238.2,784.5 L239.8,784.5 L241.4,784.5 L242.9,784.5 L244.5,784.5 L246.0,784.5 L247.6,784.5 L249.2,784.5 L250.7,784.5 L252.3,784.5 L253.9,784.5 L255.4,784.5 L257.0,784.5 L258.5,784.5 L260.1,784.5 L261.7,784.5 L263.2,784.5 L264.8,784.5 L266.4,784.5 L267.9,784.5 L269.5,784.5 L271.0,784.5 L272.6,784.5 L274.2,784.5 L275.7,784.5 L277.3,784.5 L278.8,784.5 L280.4,784.5 L282.0,784.5 L283.5,784.5 L285.1,784.5 L286.7,784.5 L288.2,784.5 L289.8,784.5 L291.3,784.5 L292.9,784.5 L294.5,784.5 L296.0,784.5 L297.6,784.5 L299.2,784.5 L300.7,784.5 L302.3,784.5 L303.8,784.5 L305.4,784.5 L307.0,784.5 L308.5,784.5 L310.1,784.5 L311.7,784.5 L313.2,784.5 L314.8,784.5 L316.3,784.5 L317.9,784.5 L319.5,784.5 L321.0,784.5 L322.6,784.5 L324.1,784.5 L325.7,784.5 L327.3,784.5 L328.8,784.4 L330.4,784.4 L332.0,784.4 L333.5,784.4 L335.1,784.4 L336.6,784.4 L338.2,784.4 L339.8,784.4 L341.3,784.3 L342.9,784.3 L344.5,784.3 L346.0,784.3 L347.6,784.2 L349.1,784.2 L350.7,784.2 L352.3,784.1 L353.8,784.1 L355.4,784.0 L356.9,784.0 L358.5,783.9 L360.1,783.8 L361.6,783.8 L363.2,783.7 L364.8,783.6 L366.3,783.5 L367.9,783.4 L369.4,783.2 L371.0,783.1 L372.6,782.9 L374.1,782.8 L375.7,782.6 L377.3,782.4 L378.8,782.2 L380.4,782.0 L381.9,781.8 L383.5,781.5 L385.1,781.2 L386.6,781.0 L388.2,780.6 L389.8,780.3 L391.3,779.8 L392.9,779.4 L394.4,778.9 L396.0,778.3 L397.6,777.7 L399.1,777.1 L400.7,776.4 L402.2,775.6 L403.8,774.7 L405.4,773.8 L406.9,773.0 L408.5,772.1 L410.1,771.3 L411.6,770.4 L413.2,769.3 L414.7,768.3 L416.3,767.0 L417.9,765.8 L419.4,764.8 L421.0,763.9 L422.6,763.1 L424.1,762.4 L425.7,761.7 L427.2,761.1 L428.8,760.5 L430.4,760.2 L431.9,760.0 L433.5,759.8 L435.0,759.9 L436.6,760.1 L438.2,760.3 L439.7,760.6 L441.3,761.1 L442.9,761.7 L444.4,762.4 L446.0,762.9 L447.5,763.5 L449.1,763.9 L450.7,764.4 L452.2,764.8 L453.8,765.2 L455.4,765.5 L456.9,765.7 L458.5,765.9 L460.0,766.0 L461.6,766.3 L463.2,766.5 L464.7,766.7 L466.3,766.9 L467.9,766.8 L469.4,766.8 L471.0,766.7 L472.5,766.6 L474.1,766.5 L475.7,766.4 L477.2,766.4 L478.8,766.4 L480.3,766.5 L481.9,766.5 L483.5,766.6 L485.0,766.7 L486.6,766.9 L488.2,767.1 L489.7,767.3 L491.3,767.5 L492.8,767.7 L494.4,767.8 L496.0,767.9 L497.5,767.9 L499.1,768.0 L500.7,768.0 L502.2,767.9 L503.8,767.7 L505.3,767.5 L506.9,767.2 L508.5,766.9 L510.0,766.5 L511.6,766.1 L513.1,765.5 L514.7,765.0 L516.3,764.6 L517.8,764.0 L519.4,763.5 L521.0,762.9 L522.5,762.2 L524.1,761.5 L525.6,760.7 L527.2,759.9 L528.8,759.1 L530.3,758.4 L531.9,757.5 L533.5,756.6 L535.0,755.8 L536.6,754.8 L538.1,753.7 L539.7,752.7 L541.3,751.6 L542.8,750.4 L544.4,749.1 L546.0,747.9 L547.5,746.4 L549.1,744.9 L550.6,743.1 L552.2,741.3 L553.8,739.4 L555.3,737.4 L556.9,735.4 L558.4,733.2 L560.0,731.2 L561.6,729.0 L563.1,726.7 L564.7,724.4 L566.3,721.9 L567.8,719.5 L569.4,716.7 L570.9,713.8 L572.5,710.6 L574.1,707.7 L575.6,704.6 L577.2,701.4 L578.8,698.2 L580.3,695.2 L581.9,692.2 L583.4,688.6 L585.0,685.3 L586.6,681.6 L588.1,677.8 L589.7,673.5 L591.2,669.4 L592.8,665.5 L594.4,661.3 L595.9,657.2 L597.5,653.2 L599.1,649.0 L600.6,644.3 L602.2,639.3 L603.7,634.7 L605.3,629.7 L606.9,624.0 L608.4,618.8 L610.0,613.8 L611.6,608.3 L613.1,602.4 L614.7,596.5 L616.2,591.0 L617.8,585.6 L619.4,580.6 L620.9,575.3 L622.5,570.3 L624.0,565.0 L625.6,560.2 L627.2,554.8 L628.7,549.0 L630.3,543.7 L631.9,537.4 L633.4,531.4 L635.0,525.3 L636.5,519.1 L638.1,513.1 L639.7,507.7 L641.2,502.5 L642.8,497.4 L644.4,491.8 L645.9,487.0 L647.5,482.0 L649.0,476.1 L650.6,470.6 L652.2,465.2 L653.7,459.9 L655.3,453.8 L656.9,448.5 L658.4,443.2 L660.0,438.9 L661.5,433.2 L663.1,427.7 L664.7,422.7 L666.2,417.0 L667.8,411.5 L669.3,405.7 L670.9,401.1 L672.5,396.6 L674.0,392.2 L675.6,387.5 L677.2,383.3 L678.7,379.4 L680.3,375.7 L681.8,372.1 L683.4,367.8 L685.0,364.3 L686.5,360.4 L688.1,356.3 L689.7,352.0 L691.2,347.3 L692.8,342.9 L694.3,338.8 L695.9,334.5 L697.5,330.2 L699.0,325.9 L700.6,322.6 L702.2,319.4 L703.7,316.0 L705.3,312.1 L706.8,308.9 L708.4,305.3 L710.0,300.7 L711.5,297.3 L713.1,293.8 L714.6,290.6 L716.2,287.0 L717.8,284.2 L719.3,281.4 L720.9,277.5 L722.5,274.4 L724.0,271.8 L725.6,269.7 L727.1,266.7 L728.7,264.9 L730.3,263.7 L731.8,260.6 L733.4,258.4 L735.0,255.0 L736.5,252.0 L738.1,249.0 L739.6,245.9 L741.2,243.3 L742.8,240.8 L744.3,239.1 L745.9,238.0 L747.4,235.9 L749.0,233.3 L750.6,231.6 L752.1,229.9 L753.7,228.0 L755.3,225.7 L756.8,223.7 L758.4,222.5 L759.9,221.1 L761.5,219.1 L763.1,217.4 L764.6,215.9 L766.2,214.8 L767.8,213.7 L769.3,212.7 L770.9,211.3 L772.4,210.3 L774.0,209.8 L775.6,210.2 L777.1,209.7 L778.7,210.5 L780.2,211.7 L781.8,211.4 L783.4,211.1 L784.9,210.5 L786.5,211.3 L788.1,210.6 L789.6,210.3 L791.2,210.4 L792.7,209.9 L794.3,209.9 L795.9,209.6 L797.4,210.0 L799.0,209.8 L800.6,210.2 L802.1,211.7 L803.7,212.1 L805.2,212.8 L806.8,212.8 L808.4,213.5 L809.9,214.3 L811.5,215.5 L813.1,216.8 L814.6,218.1 L816.2,220.3 L817.7,222.5 L819.3,225.1 L820.9,227.2 L822.4,228.9 L824.0,230.7 L825.5,232.4 L827.1,233.8 L828.7,235.9 L830.2,237.7 L831.8,240.0 L833.4,242.0 L834.9,244.4 L836.5,246.8 L838.0,248.5 L839.6,251.2 L841.2,254.1 L842.7,256.6 L844.3,259.0 L845.9,262.8 L847.4,265.2 L849.0,267.6 L850.5,269.8 L852.1,273.3 L853.7,276.8 L855.2,279.8 L856.8,282.8 L858.4,286.4 L859.9,289.8 L861.5,293.3 L863.0,296.7 L864.6,300.5 L866.2,305.0 L867.7,308.4 L869.3,313.1 L870.8,316.5 L872.4,320.3 L874.0,324.1 L875.5,328.1 L877.1,332.5 L878.7,336.1 L880.2,340.6 L881.8,344.9 L883.3,348.7 L884.9,352.9 L886.5,357.1 L888.0,361.2 L889.6,365.0 L891.2,369.3 L892.7,373.4 L894.3,377.4 L895.8,381.6 L897.4,385.5 L899.0,390.1 L900.5,393.6 L902.1,398.1 L903.6,402.3 L905.2,406.6 L906.8,411.6 L908.3,415.8 L909.9,420.7 L911.5,424.7 L913.0,429.1 L914.6,433.4 L916.1,437.4 L917.7,441.7 L919.3,445.6 L920.8,450.1 L922.4,454.5 L924.0,459.3 L925.5,464.2 L927.1,469.6 L928.6,475.3 L930.2,480.1 L931.8,484.6 L933.3,489.2 L934.9,494.1 L936.5,498.6 L938.0,503.0 L939.6,507.5 L941.1,512.4 L942.7,516.9 L944.3,521.3 L945.8,526.0 L947.4,530.5 L948.9,535.4 L950.5,540.1 L952.1,544.8 L953.6,549.1 L955.2,553.4 L956.8,557.8 L958.3,562.0 L959.9,566.1 L961.4,570.1 L963.0,574.4 L964.6,578.9 L966.1,583.5 L967.7,587.9 L969.3,592.4 L970.8,596.6 L972.4,600.9 L973.9,605.1 L975.5,609.3 L977.1,613.3 L978.6,617.1 L980.2,621.7 L981.7,625.9 L983.3,630.0 L984.9,633.7 L986.4,637.7 L988.0,641.7 L989.6,645.3 L991.1,649.1 L992.7,652.4 L994.2,655.9 L995.8,659.3 L997.4,662.7 L998.9,666.0 L1000.5,669.1 L1002.1,672.4 L1003.6,675.5 L1005.2,678.5 L1006.7,681.4 L1008.3,684.2 L1009.9,687.0 L1011.4,689.6 L1013.0,692.1 L1014.6,694.8 L1016.1,697.3 L1017.7,699.8 L1019.2,702.3 L1020.8,704.9 L1022.4,707.4 L1023.9,709.8 L1025.5,712.0 L1027.0,714.3 L1028.6,716.4 L1030.2,718.6 L1031.7,720.7 L1033.3,722.8 L1034.9,724.9 L1036.4,726.9 L1038.0,728.8 L1039.5,730.7 L1041.1,732.6 L1042.7,734.3 L1044.2,736.1 L1045.8,737.8 L1047.4,739.5 L1048.9,741.1 L1050.5,742.6 L1052.0,744.0 L1053.6,745.4 L1055.2,746.8 L1056.7,748.1 L1058.3,749.4 L1059.8,750.7 L1061.4,752.0 L1063.0,753.2 L1064.5,754.4 L1066.1,755.6 L1067.7,756.6 L1069.2,757.7 L1070.8,758.7 L1072.3,759.7 L1073.9,760.7 L1075.5,761.6 L1077.0,762.5 L1078.6,763.4 L1080.2,764.2 L1081.7,765.0 L1083.3,765.7 L1084.8,766.5 L1086.4,767.1 L1088.0,767.8 L1089.5,768.5 L1091.1,769.1 L1092.7,769.7 L1094.2,770.3 L1095.8,770.9 L1097.3,771.5 L1098.9,772.0 L1100.5,772.6 L1102.0,773.1 L1103.6,773.6 L1105.1,774.1 L1106.7,774.6 L1108.3,775.1 L1109.8,775.5 L1111.4,775.8 L1113.0,776.2 L1114.5,776.6 L1116.1,776.9 L1117.6,777.2 L1119.2,777.5 L1120.8,777.9 L1122.3,778.2 L1123.9,778.5 L1125.5,778.8 L1127.0,779.0 L1128.6,779.2 L1130.1,779.5 L1131.7,779.7 L1133.3,779.9 L1134.8,780.1 L1136.4,780.3 L1137.9,780.5 L1139.5,780.6 L1141.1,780.8 L1142.6,781.0 L1144.2,781.1 L1145.8,781.3 L1147.3,781.4 L1148.9,781.6 L1150.4,781.7 L1152.0,781.8 L1153.6,782.0 L1155.1,782.1 L1156.7,782.2 L1158.3,782.3 L1159.8,782.4 L1161.4,782.5 L1162.9,782.6 L1164.5,782.7 L1166.1,782.8 L1167.6,782.9 L1169.2,783.0 L1170.8,783.0 L1172.3,783.1 L1173.9,783.2 L1175.4,783.2 L1177.0,783.3 L1178.6,783.4 L1180.1,783.4 L1181.7,783.5 L1183.2,783.5 L1184.8,783.6 L1186.4,783.6 L1187.9,783.7 L1189.5,783.7 L1191.1,783.8 L1192.6,783.8 L1194.2,783.8 L1195.7,783.9 L1197.3,783.9 L1198.9,783.9 L1200.4,783.9 L1202.0,784.0 L1203.6,784.0 L1205.1,784.0 L1206.7,784.0 L1208.2,784.1 L1209.8,784.1 L1211.4,784.1 L1212.9,784.1 L1214.5,784.1 L1216.0,784.1 L1217.6,784.2 L1219.2,784.2 L1220.7,784.2 L1222.3,784.2 L1223.9,784.2 L1225.4,784.2 L1227.0,784.3 L1228.5,784.3 L1230.1,784.3 L1231.7,784.3 L1233.2,784.3 L1234.8,784.3 L1236.4,784.3 L1237.9,784.3 L1239.5,784.3 L1241.0,784.3 L1242.6,784.3 L1244.2,784.4 L1245.7,784.4 L1247.3,784.4 L1248.8,784.4 L1250.4,784.4 L1252.0,784.4 L1253.5,784.4 L1255.1,784.4 L1256.7,784.4 L1258.2,784.4 L1259.8,784.4 L1261.3,784.4 L1262.9,784.4 L1264.5,784.4 L1266.0,784.4 L1267.6,784.4 L1269.2,784.4 L1270.7,784.4 L1272.3,784.4 L1273.8,784.4 L1275.4,784.4 L1277.0,784.4 L1278.5,784.5 L1280.1,784.5 L1281.7,784.5 L1283.2,784.5 L1284.8,784.5 L1286.3,784.5 L1287.9,784.5 L1289.5,784.5 L1291.0,784.5 L1292.6,784.5 L1294.1,784.5 L1295.7,784.5 L1297.3,784.5 L1298.8,784.5 L1300.4,784.5 L1302.0,784.5 L1303.5,784.5 L1305.1,784.5 L1306.6,784.5 L1308.2,784.5 L1309.8,784.5 L1311.3,784.5 L1312.9,784.5 L1314.5,784.5 L1316.0,784.5 L1317.6,784.5 L1319.1,784.5 L1320.7,784.5 L1322.3,784.5 L1323.8,784.5 L1325.4,784.5 L1327.0,784.5 L1328.5,784.5 L1330.1,784.5 L1331.6,784.5 L1333.2,784.5 L1334.8,784.5 L1336.3,784.5 L1337.9,784.5 L1339.4,784.5 L1341.0,784.5 L1342.6,784.5 L1344.1,784.5 L1345.7,784.5 L1347.3,784.5 L1348.8,784.5 L1350.4,784.5 L1351.9,784.5 L1353.5,784.5 L1355.1,784.5 L1356.6,784.5 L1358.2,784.5 L1359.8,784.5 L1361.3,784.5 L1362.9,784.5 L1364.4,784.5 L1366.0,784.5 L1367.6,784.5 L1369.1,784.5 L1370.7,784.5 L1372.2,784.5 L1373.8,784.5 L1375.4,784.5 L1376.9,784.5 L1378.5,784.5 L1380.1,784.5 L1381.6,784.5 L1383.2,784.5 L1384.7,784.5 L1386.3,784.5 L1387.9,784.5 L1389.4,784.5 L1391.0,784.5 L1392.6,784.5 L1394.1,784.5 L1395.7,784.5 L1397.2,784.5 L1398.8,784.5 L1400.4,784.5 L1401.9,784.5 L1403.5,784.5 L1405.1,784.5 L1406.6,784.5 L1408.2,784.5 L1409.7,784.5 L1411.3,784.5 L1412.9,784.5 L1414.4,784.5 L1416.0,784.5 L1417.5,784.5 L1419.1,784.5 L1420.7,784.5 L1422.2,784.5 L1423.8,784.5 L1425.4,784.5 L1426.9,784.5 L1428.5,784.5 L1430.0,784.5 L1431.6,784.5 L1433.2,784.5 L1434.7,784.5 L1436.3,784.5 L1437.9,784.5 L1439.4,784.5 L1441.0,784.5 L1442.5,784.5 L1444.1,784.5 L1445.7,784.5 L1447.2,784.5 L1448.8,784.5 L1450.3,784.5 L1451.9,784.5 L1453.5,784.5 L1455.0,784.5 L1456.6,784.5 L1458.2,784.5 L1459.7,784.5" fill="none" stroke="#000" stroke-width="11" stroke-linejoin="round" stroke-linecap="round"/><path d="M210.1,784.3 L211.7,784.3 L213.2,784.3 L214.8,784.3 L216.4,784.3 L217.9,784.3 L219.5,784.3 L221.1,784.3 L222.6,784.3 L224.2,784.3 L225.7,784.3 L227.3,784.3 L228.9,784.3 L230.4,784.3 L232.0,784.3 L233.6,784.3 L235.1,784.3 L236.7,784.3 L238.2,784.3 L239.8,784.3 L241.4,784.3 L242.9,784.3 L244.5,784.3 L246.0,784.3 L247.6,784.3 L249.2,784.3 L250.7,784.3 L252.3,784.3 L253.9,784.3 L255.4,784.3 L257.0,784.3 L258.5,784.3 L260.1,784.3 L261.7,784.3 L263.2,784.2 L264.8,784.2 L266.4,784.2 L267.9,784.1 L269.5,784.1 L271.0,784.0 L272.6,784.0 L274.2,783.7 L275.7,783.1 L277.3,782.4 L278.8,781.7 L280.4,781.1 L282.0,780.9 L283.5,781.1 L285.1,781.6 L286.7,782.2 L288.2,782.8 L289.8,783.3 L291.3,783.4 L292.9,783.4 L294.5,783.4 L296.0,783.3 L297.6,783.2 L299.2,783.1 L300.7,783.0 L302.3,782.8 L303.8,782.6 L305.4,782.4 L307.0,782.2 L308.5,782.0 L310.1,781.7 L311.7,781.3 L313.2,780.6 L314.8,779.6 L316.3,778.5 L317.9,777.1 L319.5,775.7 L321.0,774.2 L322.6,772.7 L324.1,771.2 L325.7,769.8 L327.3,768.4 L328.8,767.0 L330.4,765.6 L332.0,764.1 L333.5,762.5 L335.1,760.9 L336.6,759.3 L338.2,757.5 L339.8,755.8 L341.3,754.1 L342.9,752.3 L344.5,750.3 L346.0,748.3 L347.6,746.0 L349.1,743.6 L350.7,740.7 L352.3,737.5 L353.8,734.0 L355.4,730.3 L356.9,726.5 L358.5,722.4 L360.1,717.9 L361.6,713.3 L363.2,708.1 L364.8,702.4 L366.3,696.1 L367.9,689.6 L369.4,683.1 L371.0,676.4 L372.6,669.7 L374.1,662.5 L375.7,655.1 L377.3,647.8 L378.8,639.3 L380.4,630.5 L381.9,621.9 L383.5,612.7 L385.1,603.2 L386.6,594.0 L388.2,583.7 L389.8,571.6 L391.3,556.8 L392.9,542.2 L394.4,526.4 L396.0,508.2 L397.6,488.5 L399.1,470.1 L400.7,452.3 L402.2,429.2 L403.8,402.9 L405.4,378.2 L406.9,357.9 L408.5,336.8 L410.1,318.0 L411.6,298.6 L413.2,275.8 L414.7,252.9 L416.3,227.0 L417.9,201.8 L419.4,184.6 L421.0,172.0 L422.6,164.3 L424.1,158.8 L425.7,154.8 L427.2,153.4 L428.8,154.2 L430.4,159.9 L431.9,168.5 L433.5,178.9 L435.0,195.4 L436.6,214.1 L438.2,232.2 L439.7,251.8 L441.3,274.2 L442.9,298.0 L444.4,323.3 L446.0,345.3 L447.5,365.9 L449.1,384.6 L450.7,402.1 L452.2,418.6 L453.8,432.8 L455.4,445.8 L456.9,457.4 L458.5,467.7 L460.0,476.9 L461.6,486.9 L463.2,496.9 L464.7,506.1 L466.3,514.3 L467.9,519.6 L469.4,524.6 L471.0,528.0 L472.5,532.2 L474.1,536.1 L475.7,540.1 L477.2,545.0 L478.8,550.2 L480.3,555.8 L481.9,560.5 L483.5,566.7 L485.0,572.3 L486.6,578.4 L488.2,584.8 L489.7,591.1 L491.3,597.7 L492.8,603.3 L494.4,608.7 L496.0,613.5 L497.5,617.4 L499.1,621.2 L500.7,624.9 L502.2,627.3 L503.8,629.0 L505.3,630.0 L506.9,630.9 L508.5,631.5 L510.0,631.5 L511.6,630.9 L513.1,629.8 L514.7,629.2 L516.3,628.7 L517.8,627.4 L519.4,626.9 L521.0,625.7 L522.5,624.2 L524.1,622.4 L525.6,619.8 L527.2,617.7 L528.8,615.6 L530.3,614.1 L531.9,611.7 L533.5,609.8 L535.0,607.8 L536.6,605.4 L538.1,602.9 L539.7,600.3 L541.3,597.8 L542.8,594.7 L544.4,591.9 L546.0,589.1 L547.5,585.5 L549.1,581.5 L550.6,577.1 L552.2,572.3 L553.8,567.7 L555.3,562.8 L556.9,558.2 L558.4,553.2 L560.0,549.4 L561.6,545.1 L563.1,540.4 L564.7,536.4 L566.3,531.7 L567.8,527.4 L569.4,522.2 L570.9,517.0 L572.5,511.2 L574.1,506.7 L575.6,501.6 L577.2,496.6 L578.8,492.3 L580.3,488.7 L581.9,485.7 L583.4,480.9 L585.0,477.3 L586.6,473.2 L588.1,469.2 L589.7,464.0 L591.2,459.8 L592.8,456.9 L594.4,453.1 L595.9,450.0 L597.5,447.4 L599.1,444.4 L600.6,440.3 L602.2,435.8 L603.7,432.5 L605.3,428.6 L606.9,423.3 L608.4,419.4 L610.0,416.1 L611.6,412.1 L613.1,407.6 L614.7,403.1 L616.2,399.8 L617.8,396.9 L619.4,394.9 L620.9,392.6 L622.5,391.1 L624.0,389.2 L625.6,388.1 L627.2,386.2 L628.7,383.5 L630.3,381.7 L631.9,378.2 L633.4,375.4 L635.0,372.5 L636.5,369.6 L638.1,367.1 L639.7,365.5 L641.2,364.1 L642.8,362.9 L644.4,360.9 L645.9,359.9 L647.5,358.4 L649.0,355.6 L650.6,353.3 L652.2,351.1 L653.7,348.9 L655.3,345.7 L656.9,343.5 L658.4,341.3 L660.0,340.2 L661.5,337.4 L663.1,334.7 L664.7,332.6 L666.2,329.7 L667.8,327.1 L669.3,323.9 L670.9,322.4 L672.5,320.7 L674.0,319.2 L675.6,317.3 L677.2,315.7 L678.7,314.6 L680.3,313.5 L681.8,312.5 L683.4,310.6 L685.0,309.6 L686.5,308.2 L688.1,306.3 L689.7,304.3 L691.2,301.7 L692.8,299.4 L694.3,297.3 L695.9,295.0 L697.5,292.7 L699.0,290.2 L700.6,289.0 L702.2,287.6 L703.7,286.1 L705.3,283.9 L706.8,282.4 L708.4,280.5 L710.0,277.4 L711.5,275.5 L713.1,273.4 L714.6,271.7 L716.2,269.4 L717.8,268.1 L719.3,266.6 L720.9,263.8 L722.5,262.0 L724.0,260.5 L725.6,259.3 L727.1,257.3 L728.7,256.4 L730.3,256.1 L731.8,253.9 L733.4,252.5 L735.0,250.0 L736.5,247.7 L738.1,245.3 L739.6,242.7 L741.2,240.6 L742.8,238.4 L744.3,237.2 L745.9,236.4 L747.4,234.7 L749.0,232.5 L750.6,231.0 L752.1,229.5 L753.7,227.8 L755.3,225.6 L756.8,223.7 L758.4,222.5 L759.9,221.0 L761.5,218.7 L763.1,216.8 L764.6,215.0 L766.2,213.5 L767.8,212.1 L769.3,210.7 L770.9,208.9 L772.4,207.4 L774.0,206.4 L775.6,206.1 L777.1,204.9 L778.7,204.8 L780.2,204.9 L781.8,203.6 L783.4,202.2 L784.9,200.3 L786.5,199.9 L788.1,198.0 L789.6,196.5 L791.2,195.2 L792.7,193.2 L794.3,191.7 L795.9,189.8 L797.4,188.5 L799.0,186.5 L800.6,185.0 L802.1,184.7 L803.7,183.2 L805.2,182.0 L806.8,179.9 L808.4,178.4 L809.9,177.0 L811.5,175.8 L813.1,174.9 L814.6,173.7 L816.2,173.5 L817.7,173.3 L819.3,173.4 L820.9,173.0 L822.4,172.0 L824.0,171.1 L825.5,169.9 L827.1,168.4 L828.7,167.6 L830.2,166.3 L831.8,165.6 L833.4,164.4 L834.9,163.7 L836.5,162.9 L838.0,161.2 L839.6,160.5 L841.2,160.1 L842.7,159.0 L844.3,157.9 L845.9,158.2 L847.4,157.0 L849.0,155.6 L850.5,154.0 L852.1,153.9 L853.7,153.7 L855.2,152.9 L856.8,151.9 L858.4,151.7 L859.9,151.2 L861.5,150.9 L863.0,150.3 L864.6,150.2 L866.2,151.1 L867.7,150.5 L869.3,151.5 L870.8,150.8 L872.4,150.8 L874.0,150.5 L875.5,150.6 L877.1,151.2 L878.7,150.7 L880.2,151.4 L881.8,151.9 L883.3,151.6 L884.9,151.8 L886.5,152.2 L888.0,152.2 L889.6,151.8 L891.2,152.2 L892.7,152.2 L894.3,152.2 L895.8,152.3 L897.4,152.2 L899.0,153.0 L900.5,152.1 L902.1,152.9 L903.6,153.1 L905.2,153.6 L906.8,155.1 L908.3,155.4 L909.9,156.8 L911.5,156.9 L913.0,157.4 L914.6,158.0 L916.1,158.0 L917.7,158.4 L919.3,158.2 L920.8,159.2 L922.4,159.9 L924.0,161.6 L925.5,163.3 L927.1,166.2 L928.6,169.7 L930.2,171.7 L931.8,173.1 L933.3,174.8 L934.9,177.1 L936.5,178.6 L938.0,180.0 L939.6,181.6 L941.1,184.3 L942.7,186.2 L944.3,187.9 L945.8,190.4 L947.4,192.4 L948.9,195.6 L950.5,198.4 L952.1,201.3 L953.6,203.2 L955.2,205.3 L956.8,207.6 L958.3,209.5 L959.9,211.2 L961.4,212.7 L963.0,215.1 L964.6,217.8 L966.1,221.1 L967.7,224.0 L969.3,227.2 L970.8,229.6 L972.4,232.8 L973.9,235.7 L975.5,238.6 L977.1,241.4 L978.6,243.6 L980.2,248.5 L981.7,252.1 L983.3,255.7 L984.9,258.4 L986.4,262.2 L988.0,266.4 L989.6,269.5 L991.1,273.6 L992.7,276.3 L994.2,280.0 L995.8,283.3 L997.4,287.2 L998.9,290.9 L1000.5,294.3 L1002.1,298.4 L1003.6,302.4 L1005.2,305.9 L1006.7,309.6 L1008.3,312.4 L1009.9,315.9 L1011.4,318.9 L1013.0,321.5 L1014.6,325.0 L1016.1,328.3 L1017.7,331.7 L1019.2,335.3 L1020.8,339.6 L1022.4,343.9 L1023.9,347.8 L1025.5,350.9 L1027.0,354.6 L1028.6,358.0 L1030.2,361.5 L1031.7,365.6 L1033.3,369.3 L1034.9,373.5 L1036.4,377.5 L1038.0,381.5 L1039.5,385.4 L1041.1,389.6 L1042.7,393.2 L1044.2,397.5 L1045.8,401.3 L1047.4,405.3 L1048.9,409.7 L1050.5,412.7 L1052.0,416.2 L1053.6,419.3 L1055.2,422.7 L1056.7,426.3 L1058.3,429.6 L1059.8,433.5 L1061.4,437.6 L1063.0,441.4 L1064.5,445.6 L1066.1,449.2 L1067.7,452.6 L1069.2,456.2 L1070.8,459.8 L1072.3,463.3 L1073.9,467.1 L1075.5,470.5 L1077.0,474.0 L1078.6,477.2 L1080.2,480.1 L1081.7,483.7 L1083.3,486.0 L1084.8,488.7 L1086.4,491.3 L1088.0,494.0 L1089.5,497.4 L1091.1,499.7 L1092.7,502.0 L1094.2,504.8 L1095.8,507.8 L1097.3,511.5 L1098.9,513.5 L1100.5,516.7 L1102.0,521.2 L1103.6,524.5 L1105.1,528.2 L1106.7,531.1 L1108.3,534.7 L1109.8,537.2 L1111.4,539.4 L1113.0,542.5 L1114.5,544.3 L1116.1,546.2 L1117.6,549.0 L1119.2,552.7 L1120.8,556.0 L1122.3,559.4 L1123.9,562.9 L1125.5,566.3 L1127.0,569.2 L1128.6,571.7 L1130.1,574.4 L1131.7,577.1 L1133.3,579.9 L1134.8,582.7 L1136.4,585.2 L1137.9,588.2 L1139.5,590.7 L1141.1,593.2 L1142.6,596.3 L1144.2,599.5 L1145.8,602.1 L1147.3,604.6 L1148.9,606.8 L1150.4,609.7 L1152.0,611.8 L1153.6,613.8 L1155.1,616.4 L1156.7,619.2 L1158.3,621.6 L1159.8,623.0 L1161.4,625.0 L1162.9,627.2 L1164.5,629.1 L1166.1,630.4 L1167.6,633.1 L1169.2,635.4 L1170.8,637.4 L1172.3,639.1 L1173.9,640.8 L1175.4,642.7 L1177.0,644.1 L1178.6,646.0 L1180.1,648.0 L1181.7,650.2 L1183.2,652.6 L1184.8,654.7 L1186.4,656.4 L1187.9,658.6 L1189.5,660.7 L1191.1,662.6 L1192.6,664.2 L1194.2,666.1 L1195.7,667.8 L1197.3,669.4 L1198.9,670.7 L1200.4,672.0 L1202.0,673.2 L1203.6,674.3 L1205.1,675.9 L1206.7,677.2 L1208.2,678.6 L1209.8,680.1 L1211.4,682.0 L1212.9,683.7 L1214.5,685.2 L1216.0,686.7 L1217.6,688.5 L1219.2,689.9 L1220.7,691.3 L1222.3,692.7 L1223.9,694.1 L1225.4,695.4 L1227.0,696.4 L1228.5,697.5 L1230.1,698.4 L1231.7,699.3 L1233.2,700.2 L1234.8,701.1 L1236.4,702.1 L1237.9,703.0 L1239.5,704.2 L1241.0,705.5 L1242.6,706.7 L1244.2,707.9 L1245.7,709.2 L1247.3,710.8 L1248.8,712.2 L1250.4,713.7 L1252.0,715.2 L1253.5,716.8 L1255.1,718.2 L1256.7,719.5 L1258.2,720.8 L1259.8,722.0 L1261.3,723.0 L1262.9,723.8 L1264.5,724.7 L1266.0,725.5 L1267.6,726.2 L1269.2,726.9 L1270.7,727.5 L1272.3,728.2 L1273.8,729.0 L1275.4,729.7 L1277.0,730.4 L1278.5,731.2 L1280.1,732.0 L1281.7,732.9 L1283.2,733.8 L1284.8,734.8 L1286.3,735.8 L1287.9,736.7 L1289.5,737.7 L1291.0,738.5 L1292.6,739.3 L1294.1,740.0 L1295.7,740.7 L1297.3,741.3 L1298.8,741.9 L1300.4,742.5 L1302.0,743.0 L1303.5,743.5 L1305.1,744.1 L1306.6,744.6 L1308.2,745.2 L1309.8,745.7 L1311.3,746.3 L1312.9,746.9 L1314.5,747.6 L1316.0,748.2 L1317.6,748.8 L1319.1,749.5 L1320.7,750.1 L1322.3,750.7 L1323.8,751.3 L1325.4,751.8 L1327.0,752.3 L1328.5,752.8 L1330.1,753.3 L1331.6,753.8 L1333.2,754.2 L1334.8,754.6 L1336.3,755.1 L1337.9,755.5 L1339.4,755.9 L1341.0,756.3 L1342.6,756.8 L1344.1,757.2 L1345.7,757.7 L1347.3,758.2 L1348.8,758.7 L1350.4,759.2 L1351.9,759.7 L1353.5,760.2 L1355.1,760.6 L1356.6,761.0 L1358.2,761.3 L1359.8,761.6 L1361.3,761.7 L1362.9,761.9 L1364.4,762.0 L1366.0,762.0 L1367.6,762.1 L1369.1,762.2 L1370.7,762.3 L1372.2,762.4 L1373.8,762.5 L1375.4,762.7 L1376.9,762.9 L1378.5,763.4 L1380.1,764.0 L1381.6,764.7 L1383.2,765.5 L1384.7,766.3 L1386.3,767.0 L1387.9,767.7 L1389.4,768.2 L1391.0,768.6 L1392.6,768.8 L1394.1,768.8 L1395.7,768.8 L1397.2,768.7 L1398.8,768.6 L1400.4,768.6 L1401.9,768.5 L1403.5,768.5 L1405.1,768.5 L1406.6,768.5 L1408.2,768.9 L1409.7,769.6 L1411.3,770.3 L1412.9,771.1 L1414.4,771.7 L1416.0,772.0 L1417.5,772.0 L1419.1,771.7 L1420.7,771.3 L1422.2,770.9 L1423.8,770.4 L1425.4,770.0 L1426.9,769.8 L1428.5,769.9 L1430.0,770.2 L1431.6,770.7 L1433.2,771.4 L1434.7,772.1 L1436.3,772.8 L1437.9,773.4 L1439.4,773.9 L1441.0,774.4 L1442.5,774.9 L1444.1,775.4 L1445.7,775.7 L1447.2,775.7 L1448.8,774.7 L1450.3,773.4 L1451.9,773.1 L1453.5,773.3 L1455.0,773.8 L1456.6,774.7 L1458.2,775.9 L1459.7,779.2" fill="none" stroke="#000" stroke-width="4.5" stroke-dasharray="17.4 17.9" stroke-linejoin="round"/><path d="M210.1,784.5 L211.7,784.5 L213.2,784.5 L214.8,784.5 L216.4,784.5 L217.9,784.5 L219.5,784.5 L221.1,784.5 L222.6,784.5 L224.2,784.5 L225.7,784.5 L227.3,784.5 L228.9,784.5 L230.4,784.5 L232.0,784.4 L233.6,784.4 L235.1,784.4 L236.7,784.4 L238.2,784.4 L239.8,784.4 L241.4,784.4 L242.9,784.4 L244.5,784.4 L246.0,784.4 L247.6,784.4 L249.2,784.4 L250.7,784.4 L252.3,784.4 L253.9,784.4 L255.4,784.4 L257.0,784.4 L258.5,784.4 L260.1,784.3 L261.7,784.3 L263.2,784.3 L264.8,784.3 L266.4,784.3 L267.9,784.3 L269.5,784.3 L271.0,784.3 L272.6,784.2 L274.2,784.2 L275.7,784.2 L277.3,784.2 L278.8,784.2 L280.4,784.2 L282.0,784.2 L283.5,784.2 L285.1,784.1 L286.7,784.1 L288.2,784.1 L289.8,784.1 L291.3,784.0 L292.9,784.0 L294.5,784.0 L296.0,783.9 L297.6,783.9 L299.2,783.9 L300.7,783.8 L302.3,783.8 L303.8,783.7 L305.4,783.7 L307.0,783.6 L308.5,783.6 L310.1,783.5 L311.7,783.5 L313.2,783.4 L314.8,783.3 L316.3,783.3 L317.9,783.2 L319.5,783.1 L321.0,783.0 L322.6,782.9 L324.1,782.8 L325.7,782.7 L327.3,782.6 L328.8,782.5 L330.4,782.4 L332.0,782.2 L333.5,782.1 L335.1,782.0 L336.6,781.8 L338.2,781.6 L339.8,781.4 L341.3,781.2 L342.9,781.0 L344.5,780.8 L346.0,780.6 L347.6,780.3 L349.1,780.1 L350.7,779.9 L352.3,779.6 L353.8,779.4 L355.4,779.1 L356.9,778.9 L358.5,778.6 L360.1,778.3 L361.6,778.0 L363.2,777.7 L364.8,777.4 L366.3,777.1 L367.9,776.8 L369.4,776.5 L371.0,776.2 L372.6,775.9 L374.1,775.6 L375.7,775.2 L377.3,774.9 L378.8,774.5 L380.4,774.2 L381.9,773.8 L383.5,773.4 L385.1,773.1 L386.6,772.7 L388.2,772.3 L389.8,771.9 L391.3,771.5 L392.9,771.1 L394.4,770.7 L396.0,770.3 L397.6,769.9 L399.1,769.5 L400.7,769.1 L402.2,768.7 L403.8,768.2 L405.4,767.8 L406.9,767.4 L408.5,767.0 L410.1,766.5 L411.6,766.1 L413.2,765.6 L414.7,765.1 L416.3,764.6 L417.9,764.1 L419.4,763.6 L421.0,763.1 L422.6,762.6 L424.1,762.1 L425.7,761.5 L427.2,761.0 L428.8,760.4 L430.4,759.8 L431.9,759.2 L433.5,758.6 L435.0,758.0 L436.6,757.4 L438.2,756.7 L439.7,756.1 L441.3,755.4 L442.9,754.7 L444.4,754.0 L446.0,753.3 L447.5,752.6 L449.1,751.9 L450.7,751.1 L452.2,750.4 L453.8,749.6 L455.4,748.8 L456.9,748.0 L458.5,747.2 L460.0,746.4 L461.6,745.6 L463.2,744.8 L464.7,743.9 L466.3,743.1 L467.9,742.2 L469.4,741.3 L471.0,740.4 L472.5,739.5 L474.1,738.6 L475.7,737.6 L477.2,736.6 L478.8,735.6 L480.3,734.6 L481.9,733.5 L483.5,732.5 L485.0,731.4 L486.6,730.3 L488.2,729.1 L489.7,728.0 L491.3,726.8 L492.8,725.5 L494.4,724.3 L496.0,723.0 L497.5,721.6 L499.1,720.3 L500.7,718.9 L502.2,717.5 L503.8,716.0 L505.3,714.5 L506.9,713.0 L508.5,711.5 L510.0,709.9 L511.6,708.3 L513.1,706.7 L514.7,705.0 L516.3,703.3 L517.8,701.6 L519.4,699.8 L521.0,698.1 L522.5,696.3 L524.1,694.5 L525.6,692.7 L527.2,690.9 L528.8,689.0 L530.3,687.1 L531.9,685.2 L533.5,683.3 L535.0,681.2 L536.6,679.2 L538.1,677.1 L539.7,674.9 L541.3,672.6 L542.8,670.3 L544.4,668.0 L546.0,665.6 L547.5,663.1 L549.1,660.5 L550.6,657.9 L552.2,655.2 L553.8,652.5 L555.3,649.7 L556.9,646.7 L558.4,643.7 L560.0,640.6 L561.6,637.5 L563.1,634.2 L564.7,630.9 L566.3,627.4 L567.8,624.0 L569.4,620.4 L570.9,616.8 L572.5,613.0 L574.1,609.2 L575.6,605.3 L577.2,601.3 L578.8,597.1 L580.3,592.9 L581.9,588.6 L583.4,584.1 L585.0,579.5 L586.6,574.8 L588.1,569.8 L589.7,564.7 L591.2,559.5 L592.8,554.1 L594.4,548.6 L595.9,543.0 L597.5,537.4 L599.1,531.7 L600.6,526.0 L602.2,520.3 L603.7,514.5 L605.3,508.6 L606.9,502.6 L608.4,496.5 L610.0,490.4 L611.6,484.2 L613.1,477.9 L614.7,471.6 L616.2,465.3 L617.8,458.9 L619.4,452.3 L620.9,445.7 L622.5,438.9 L624.0,432.2 L625.6,425.4 L627.2,418.6 L628.7,411.8 L630.3,405.1 L631.9,398.5 L633.4,391.9 L635.0,385.3 L636.5,378.6 L638.1,371.9 L639.7,365.3 L641.2,358.7 L642.8,352.3 L644.4,346.0 L645.9,339.9 L647.5,333.9 L649.0,328.2 L650.6,322.5 L652.2,317.0 L653.7,311.6 L655.3,306.2 L656.9,301.0 L658.4,295.9 L660.0,290.9 L661.5,286.0 L663.1,281.1 L664.7,276.4 L666.2,271.7 L667.8,267.1 L669.3,262.5 L670.9,258.1 L672.5,253.7 L674.0,249.5 L675.6,245.3 L677.2,241.3 L678.7,237.5 L680.3,233.7 L681.8,230.0 L683.4,226.4 L685.0,222.9 L686.5,219.5 L688.1,216.2 L689.7,213.0 L691.2,209.9 L692.8,206.8 L694.3,203.9 L695.9,201.1 L697.5,198.3 L699.0,195.6 L700.6,193.0 L702.2,190.4 L703.7,188.0 L705.3,185.6 L706.8,183.3 L708.4,181.1 L710.0,179.1 L711.5,177.1 L713.1,175.2 L714.6,173.3 L716.2,171.5 L717.8,169.7 L719.3,168.1 L720.9,166.5 L722.5,165.0 L724.0,163.6 L725.6,162.4 L727.1,161.2 L728.7,160.0 L730.3,158.9 L731.8,157.9 L733.4,156.8 L735.0,155.9 L736.5,155.1 L738.1,154.3 L739.6,153.6 L741.2,153.1 L742.8,152.6 L744.3,152.2 L745.9,151.7 L747.4,151.3 L749.0,150.9 L750.6,150.6 L752.1,150.3 L753.7,150.1 L755.3,149.9 L756.8,149.9 L758.4,149.9 L759.9,150.1 L761.5,150.3 L763.1,150.5 L764.6,150.9 L766.2,151.2 L767.8,151.7 L769.3,152.1 L770.9,152.6 L772.4,153.1 L774.0,153.6 L775.6,154.4 L777.1,155.2 L778.7,156.2 L780.2,157.3 L781.8,158.4 L783.4,159.6 L784.9,160.9 L786.5,162.2 L788.1,163.5 L789.6,164.8 L791.2,166.2 L792.7,167.8 L794.3,169.4 L795.9,171.1 L797.4,172.8 L799.0,174.6 L800.6,176.5 L802.1,178.4 L803.7,180.4 L805.2,182.4 L806.8,184.4 L808.4,186.6 L809.9,188.9 L811.5,191.2 L813.1,193.6 L814.6,196.0 L816.2,198.5 L817.7,201.0 L819.3,203.6 L820.9,206.2 L822.4,208.9 L824.0,211.6 L825.5,214.4 L827.1,217.3 L828.7,220.2 L830.2,223.2 L831.8,226.2 L833.4,229.3 L834.9,232.4 L836.5,235.6 L838.0,238.8 L839.6,242.1 L841.2,245.4 L842.7,248.9 L844.3,252.3 L845.9,255.8 L847.4,259.3 L849.0,262.9 L850.5,266.5 L852.1,270.1 L853.7,273.7 L855.2,277.4 L856.8,281.2 L858.4,284.9 L859.9,288.7 L861.5,292.6 L863.0,296.4 L864.6,300.2 L866.2,304.1 L867.7,308.0 L869.3,311.8 L870.8,315.8 L872.4,319.7 L874.0,323.6 L875.5,327.6 L877.1,331.5 L878.7,335.5 L880.2,339.5 L881.8,343.5 L883.3,347.5 L884.9,351.5 L886.5,355.6 L888.0,359.6 L889.6,363.7 L891.2,367.8 L892.7,371.8 L894.3,375.9 L895.8,380.0 L897.4,384.1 L899.0,388.1 L900.5,392.2 L902.1,396.3 L903.6,400.4 L905.2,404.4 L906.8,408.5 L908.3,412.6 L909.9,416.7 L911.5,420.7 L913.0,424.8 L914.6,428.9 L916.1,432.9 L917.7,437.0 L919.3,441.1 L920.8,445.1 L922.4,449.2 L924.0,453.2 L925.5,457.3 L927.1,461.3 L928.6,465.3 L930.2,469.3 L931.8,473.2 L933.3,477.2 L934.9,481.1 L936.5,485.0 L938.0,489.0 L939.6,492.9 L941.1,496.8 L942.7,500.6 L944.3,504.5 L945.8,508.4 L947.4,512.2 L948.9,516.0 L950.5,519.9 L952.1,523.7 L953.6,527.5 L955.2,531.3 L956.8,535.1 L958.3,538.9 L959.9,542.7 L961.4,546.5 L963.0,550.4 L964.6,554.2 L966.1,558.1 L967.7,561.9 L969.3,565.8 L970.8,569.6 L972.4,573.3 L973.9,577.1 L975.5,580.8 L977.1,584.5 L978.6,588.1 L980.2,591.8 L981.7,595.4 L983.3,599.1 L984.9,602.6 L986.4,606.1 L988.0,609.6 L989.6,613.0 L991.1,616.3 L992.7,619.6 L994.2,622.8 L995.8,625.9 L997.4,629.0 L998.9,632.1 L1000.5,635.1 L1002.1,638.1 L1003.6,641.0 L1005.2,643.9 L1006.7,646.8 L1008.3,649.6 L1009.9,652.4 L1011.4,655.2 L1013.0,657.9 L1014.6,660.6 L1016.1,663.2 L1017.7,665.8 L1019.2,668.4 L1020.8,670.9 L1022.4,673.4 L1023.9,675.9 L1025.5,678.4 L1027.0,680.8 L1028.6,683.2 L1030.2,685.6 L1031.7,687.9 L1033.3,690.2 L1034.9,692.4 L1036.4,694.6 L1038.0,696.8 L1039.5,698.9 L1041.1,701.0 L1042.7,703.1 L1044.2,705.1 L1045.8,707.2 L1047.4,709.1 L1048.9,711.1 L1050.5,712.9 L1052.0,714.8 L1053.6,716.6 L1055.2,718.4 L1056.7,720.1 L1058.3,721.8 L1059.8,723.4 L1061.4,725.1 L1063.0,726.7 L1064.5,728.2 L1066.1,729.8 L1067.7,731.3 L1069.2,732.7 L1070.8,734.1 L1072.3,735.6 L1073.9,736.9 L1075.5,738.3 L1077.0,739.6 L1078.6,740.9 L1080.2,742.2 L1081.7,743.4 L1083.3,744.6 L1084.8,745.8 L1086.4,746.9 L1088.0,748.1 L1089.5,749.2 L1091.1,750.3 L1092.7,751.3 L1094.2,752.4 L1095.8,753.4 L1097.3,754.3 L1098.9,755.3 L1100.5,756.2 L1102.0,757.1 L1103.6,758.0 L1105.1,758.8 L1106.7,759.7 L1108.3,760.5 L1109.8,761.3 L1111.4,762.1 L1113.0,762.8 L1114.5,763.5 L1116.1,764.2 L1117.6,764.8 L1119.2,765.5 L1120.8,766.1 L1122.3,766.7 L1123.9,767.2 L1125.5,767.8 L1127.0,768.3 L1128.6,768.8 L1130.1,769.3 L1131.7,769.8 L1133.3,770.2 L1134.8,770.7 L1136.4,771.1 L1137.9,771.5 L1139.5,771.9 L1141.1,772.3 L1142.6,772.6 L1144.2,773.0 L1145.8,773.4 L1147.3,773.7 L1148.9,774.1 L1150.4,774.4 L1152.0,774.8 L1153.6,775.1 L1155.1,775.4 L1156.7,775.7 L1158.3,776.1 L1159.8,776.4 L1161.4,776.7 L1162.9,776.9 L1164.5,777.2 L1166.1,777.5 L1167.6,777.7 L1169.2,778.0 L1170.8,778.2 L1172.3,778.5 L1173.9,778.7 L1175.4,778.9 L1177.0,779.1 L1178.6,779.3 L1180.1,779.5 L1181.7,779.7 L1183.2,779.8 L1184.8,780.0 L1186.4,780.2 L1187.9,780.3 L1189.5,780.5 L1191.1,780.6 L1192.6,780.7 L1194.2,780.9 L1195.7,781.0 L1197.3,781.1 L1198.9,781.2 L1200.4,781.3 L1202.0,781.4 L1203.6,781.5 L1205.1,781.6 L1206.7,781.7 L1208.2,781.8 L1209.8,781.9 L1211.4,782.0 L1212.9,782.1 L1214.5,782.1 L1216.0,782.2 L1217.6,782.3 L1219.2,782.4 L1220.7,782.4 L1222.3,782.5 L1223.9,782.6 L1225.4,782.6 L1227.0,782.7 L1228.5,782.8 L1230.1,782.8 L1231.7,782.9 L1233.2,782.9 L1234.8,783.0 L1236.4,783.0 L1237.9,783.1 L1239.5,783.1 L1241.0,783.2 L1242.6,783.2 L1244.2,783.3 L1245.7,783.3 L1247.3,783.3 L1248.8,783.4 L1250.4,783.4 L1252.0,783.5 L1253.5,783.5 L1255.1,783.5 L1256.7,783.6 L1258.2,783.6 L1259.8,783.6 L1261.3,783.7 L1262.9,783.7 L1264.5,783.7 L1266.0,783.7 L1267.6,783.8 L1269.2,783.8 L1270.7,783.8 L1272.3,783.8 L1273.8,783.9 L1275.4,783.9 L1277.0,783.9 L1278.5,783.9 L1280.1,783.9 L1281.7,784.0 L1283.2,784.0 L1284.8,784.0 L1286.3,784.0 L1287.9,784.0 L1289.5,784.0 L1291.0,784.1 L1292.6,784.1 L1294.1,784.1 L1295.7,784.1 L1297.3,784.1 L1298.8,784.1 L1300.4,784.1 L1302.0,784.2 L1303.5,784.2 L1305.1,784.2 L1306.6,784.2 L1308.2,784.2 L1309.8,784.2 L1311.3,784.2 L1312.9,784.2 L1314.5,784.2 L1316.0,784.3 L1317.6,784.3 L1319.1,784.3 L1320.7,784.3 L1322.3,784.3 L1323.8,784.3 L1325.4,784.3 L1327.0,784.3 L1328.5,784.3 L1330.1,784.3 L1331.6,784.3 L1333.2,784.3 L1334.8,784.3 L1336.3,784.3 L1337.9,784.4 L1339.4,784.4 L1341.0,784.4 L1342.6,784.4 L1344.1,784.4 L1345.7,784.4 L1347.3,784.4 L1348.8,784.4 L1350.4,784.4 L1351.9,784.4 L1353.5,784.4 L1355.1,784.4 L1356.6,784.4 L1358.2,784.4 L1359.8,784.4 L1361.3,784.4 L1362.9,784.4 L1364.4,784.4 L1366.0,784.4 L1367.6,784.4 L1369.1,784.4 L1370.7,784.4 L1372.2,784.4 L1373.8,784.4 L1375.4,784.4 L1376.9,784.4 L1378.5,784.4 L1380.1,784.4 L1381.6,784.4 L1383.2,784.4 L1384.7,784.4 L1386.3,784.5 L1387.9,784.5 L1389.4,784.5 L1391.0,784.5 L1392.6,784.5 L1394.1,784.5 L1395.7,784.5 L1397.2,784.5 L1398.8,784.5 L1400.4,784.5 L1401.9,784.5 L1403.5,784.5 L1405.1,784.5 L1406.6,784.5 L1408.2,784.5 L1409.7,784.5 L1411.3,784.5 L1412.9,784.5 L1414.4,784.5 L1416.0,784.5 L1417.5,784.5 L1419.1,784.5 L1420.7,784.5 L1422.2,784.5 L1423.8,784.5 L1425.4,784.5 L1426.9,784.5 L1428.5,784.5 L1430.0,784.5 L1431.6,784.5 L1433.2,784.5 L1434.7,784.5 L1436.3,784.5 L1437.9,784.5 L1439.4,784.5 L1441.0,784.5 L1442.5,784.5 L1444.1,784.5 L1445.7,784.5 L1447.2,784.5 L1448.8,784.5 L1450.3,784.5 L1451.9,784.5 L1453.5,784.5 L1455.0,784.5 L1456.6,784.5 L1458.2,784.5 L1459.7,784.5" fill="none" stroke="#F3D230" stroke-width="6.6" stroke-linejoin="round" stroke-linecap="round"/></g><line x1="756.9" y1="133" x2="756.9" y2="147.5" stroke="#F5E078" stroke-width="4"/><rect x="711.5" y="69.3" width="90.6" height="62.7" rx="8.5" ry="8.5" fill="#fff" stroke="#F7E482" stroke-width="2.2"/><text x="727.6" y="109.7" font-family="Liberation Sans, sans-serif" font-size="29.5" fill="#F5E06E" stroke="#F5E06E" stroke-width="0.6">V</text><text x="747.4" y="109.2" font-family="Liberation Serif, serif" font-size="37" fill="#F5E06E" stroke="#F5E06E" stroke-width="0.4">(</text><text x="758.8" y="109.8" font-family="Liberation Serif, serif" font-size="30.5" fill="#F5E06E" stroke="#F5E06E" stroke-width="0.7">λ</text><text x="775.7" y="109.2" font-family="Liberation Serif, serif" font-size="37" fill="#F5E06E" stroke="#F5E06E" stroke-width="0.4">)</text><line x1="148.2" y1="14.3" x2="148.2" y2="786.7" stroke="#000" stroke-width="4.4"/><line x1="146.0" y1="784.5" x2="1523.8" y2="784.5" stroke="#000" stroke-width="4.4"/><line x1="138.9" y1="784.5" x2="148.2" y2="784.5" stroke="#000" stroke-width="4.4"/><text x="130.8" y="796.7" font-family="Liberation Sans, sans-serif" stroke="#000" stroke-width="0.55" font-size="34" text-anchor="end">0</text><line x1="138.9" y1="614.5" x2="148.2" y2="614.5" stroke="#000" stroke-width="4.4"/><text x="130.8" y="626.7" font-family="Liberation Sans, sans-serif" stroke="#000" stroke-width="0.55" font-size="34" text-anchor="end">10</text><line x1="138.9" y1="444.5" x2="148.2" y2="444.5" stroke="#000" stroke-width="4.4"/><text x="130.8" y="456.7" font-family="Liberation Sans, sans-serif" stroke="#000" stroke-width="0.55" font-size="34" text-anchor="end">20</text><line x1="138.9" y1="274.5" x2="148.2" y2="274.5" stroke="#000" stroke-width="4.4"/><text x="130.8" y="286.7" font-family="Liberation Sans, sans-serif" stroke="#000" stroke-width="0.55" font-size="34" text-anchor="end">30</text><line x1="138.9" y1="104.5" x2="148.2" y2="104.5" stroke="#000" stroke-width="4.4"/><text x="130.8" y="116.7" font-family="Liberation Sans, sans-serif" stroke="#000" stroke-width="0.55" font-size="34" text-anchor="end">40</text><line x1="272.6" y1="784.5" x2="272.6" y2="793.8" stroke="#000" stroke-width="4.4"/><text x="272.6" y="826.3" font-family="Liberation Sans, sans-serif" stroke="#000" stroke-width="0.55" font-size="34" text-anchor="middle">400</text><line x1="585.0" y1="784.5" x2="585.0" y2="793.8" stroke="#000" stroke-width="4.4"/><text x="585.0" y="826.3" font-family="Liberation Sans, sans-serif" stroke="#000" stroke-width="0.55" font-size="34" text-anchor="middle">500</text><line x1="897.4" y1="784.5" x2="897.4" y2="793.8" stroke="#000" stroke-width="4.4"/><text x="897.4" y="826.3" font-family="Liberation Sans, sans-serif" stroke="#000" stroke-width="0.55" font-size="34" text-anchor="middle">600</text><line x1="1209.8" y1="784.5" x2="1209.8" y2="793.8" stroke="#000" stroke-width="4.4"/><text x="1209.8" y="826.3" font-family="Liberation Sans, sans-serif" stroke="#000" stroke-width="0.55" font-size="34" text-anchor="middle">700</text><line x1="1459.7" y1="784.5" x2="1459.7" y2="793.8" stroke="#000" stroke-width="4.4"/><text x="1459.7" y="826.3" font-family="Liberation Sans, sans-serif" stroke="#000" stroke-width="0.55" font-size="34" text-anchor="middle">780</text><text x="834.5" y="870.2" font-family="Liberation Sans, sans-serif" stroke="#000" stroke-width="0.55" font-size="37.3" text-anchor="middle">Wavelength (nm)</text><text transform="translate(67.3,607.6) rotate(-90)" font-family="Liberation Sans, sans-serif" stroke="#000" stroke-width="0.55" font-size="37.2">Irradiance</text><text transform="translate(67.3,422.3) rotate(-90)" font-family="Liberation Sans, sans-serif" stroke="#000" stroke-width="0.55" font-size="37.2">mW</text><line x1="73.1" y1="352.2" x2="34.4" y2="339.9" stroke="#000" stroke-width="2.9"/><text transform="translate(66.8,337.2) rotate(-90)" font-family="Liberation Sans, sans-serif"  font-size="45">(</text><text transform="translate(67.3,320.5) rotate(-90)" font-family="Liberation Sans, sans-serif" stroke="#000" stroke-width="0.55" font-size="37.2">m</text><text transform="translate(49.2,291.3) rotate(-90)" font-family="Liberation Sans, sans-serif" stroke="#000" stroke-width="0.55" font-size="25">2</text><text transform="translate(63.6,275.3) rotate(-90)" font-family="Liberation Sans, sans-serif" stroke="#000" stroke-width="0.55" font-size="29.5">*</text><text transform="translate(67.3,260.9) rotate(-90)" font-family="Liberation Sans, sans-serif" stroke="#000" stroke-width="0.55" font-size="37.2">nm</text><text transform="translate(66.8,207.7) rotate(-90)" font-family="Liberation Sans, sans-serif"  font-size="45">)</text><rect x="1713.4" y="25.0" width="497.3" height="48.0" fill="#D1A8AD" stroke="#000" stroke-width="4.4"/><text x="2203.8" y="62.8" font-family="Liberation Sans, sans-serif" stroke="#000" stroke-width="0.55" font-size="37.2" text-anchor="end">80</text><line x1="1672.7" y1="49.0" x2="1682.2" y2="49.0" stroke="#000" stroke-width="4.4"/><text x="1664.3" y="61.2" font-family="Liberation Sans, sans-serif" stroke="#000" stroke-width="0.55" font-size="34" text-anchor="end">R1</text><rect x="1713.4" y="79.1" width="541.1" height="48.0" fill="#C0AE89" stroke="#000" stroke-width="4.4"/><text x="2247.6" y="116.9" font-family="Liberation Sans, sans-serif" stroke="#000" stroke-width="0.55" font-size="37.2" text-anchor="end">87</text><line x1="1672.7" y1="103.1" x2="1682.2" y2="103.1" stroke="#000" stroke-width="4.4"/><text x="1664.3" y="115.3" font-family="Liberation Sans, sans-serif" stroke="#000" stroke-width="0.55" font-size="34" text-anchor="end">R2</text><rect x="1713.4" y="133.2" width="581.2" height="48.0" fill="#B2BE75" stroke="#000" stroke-width="4.4"/><text x="2287.7" y="171.0" font-family="Liberation Sans, sans-serif" stroke="#000" stroke-width="0.55" font-size="37.2" text-anchor="end">93</text><line x1="1672.7" y1="157.2" x2="1682.2" y2="157.2" stroke="#000" stroke-width="4.4"/><text x="1664.3" y="169.4" font-family="Liberation Sans, sans-serif" stroke="#000" stroke-width="0.55" font-size="34" text-anchor="end">R3</text><rect x="1713.4" y="187.3" width="511.1" height="48.0" fill="#9AC2A3" stroke="#000" stroke-width="4.4"/><text x="2217.6" y="225.1" font-family="Liberation Sans, sans-serif" stroke="#000" stroke-width="0.55" font-size="37.2" text-anchor="end">82</text><line x1="1672.7" y1="211.3" x2="1682.2" y2="211.3" stroke="#000" stroke-width="4.4"/><text x="1664.3" y="223.5" font-family="Liberation Sans, sans-serif" stroke="#000" stroke-width="0.55" font-size="34" text-anchor="end">R4</text><rect x="1713.4" y="241.4" width="495.4" height="48.0" fill="#9DBDDA" stroke="#000" stroke-width="4.4"/><text x="2201.9" y="279.2" font-family="Liberation Sans, sans-serif" stroke="#000" stroke-width="0.55" font-size="37.2" text-anchor="end">79</text><line x1="1672.7" y1="265.4" x2="1682.2" y2="265.4" stroke="#000" stroke-width="4.4"/><text x="1664.3" y="277.6" font-family="Liberation Sans, sans-serif" stroke="#000" stroke-width="0.55" font-size="34" text-anchor="end">R5</text><rect x="1713.4" y="295.4" width="510.8" height="48.0" fill="#9EB1F6" stroke="#000" stroke-width="4.4"/><text x="2217.3" y="333.2" font-family="Liberation Sans, sans-serif" stroke="#000" stroke-width="0.55" font-size="37.2" text-anchor="end">82</text><line x1="1672.7" y1="319.4" x2="1682.2" y2="319.4" stroke="#000" stroke-width="4.4"/><text x="1664.3" y="331.6" font-family="Liberation Sans, sans-serif" stroke="#000" stroke-width="0.55" font-size="34" text-anchor="end">R6</text><rect x="1713.4" y="349.5" width="549.3" height="48.0" fill="#BDA5F4" stroke="#000" stroke-width="4.4"/><text x="2255.8" y="387.3" font-family="Liberation Sans, sans-serif" stroke="#000" stroke-width="0.55" font-size="37.2" text-anchor="end">88</text><line x1="1672.7" y1="373.5" x2="1682.2" y2="373.5" stroke="#000" stroke-width="4.4"/><text x="1664.3" y="385.7" font-family="Liberation Sans, sans-serif" stroke="#000" stroke-width="0.55" font-size="34" text-anchor="end">R7</text><rect x="1713.4" y="403.6" width="412.3" height="48.0" fill="#D3A3E4" stroke="#000" stroke-width="4.4"/><text x="2118.8" y="441.4" font-family="Liberation Sans, sans-serif" stroke="#000" stroke-width="0.55" font-size="37.2" text-anchor="end">66</text><line x1="1672.7" y1="427.6" x2="1682.2" y2="427.6" stroke="#000" stroke-width="4.4"/><text x="1664.3" y="439.8" font-family="Liberation Sans, sans-serif" stroke="#000" stroke-width="0.55" font-size="34" text-anchor="end">R8</text><rect x="1713.4" y="457.7" width="65.4" height="48.0" fill="#B93B50" stroke="#000" stroke-width="4.4"/><text x="1786.5" y="495.5" font-family="Liberation Sans, sans-serif" stroke="#000" stroke-width="0.55" font-size="37.2">11</text><line x1="1672.7" y1="481.7" x2="1682.2" y2="481.7" stroke="#000" stroke-width="4.4"/><text x="1664.3" y="493.9" font-family="Liberation Sans, sans-serif" stroke="#000" stroke-width="0.55" font-size="34" text-anchor="end">R9</text><rect x="1713.4" y="511.8" width="430.2" height="48.0" fill="#FBF27A" stroke="#000" stroke-width="4.4"/><text x="2136.7" y="549.6" font-family="Liberation Sans, sans-serif" stroke="#000" stroke-width="0.55" font-size="37.2" text-anchor="end">69</text><line x1="1672.7" y1="535.8" x2="1682.2" y2="535.8" stroke="#000" stroke-width="4.4"/><text x="1664.3" y="548.0" font-family="Liberation Sans, sans-serif" stroke="#000" stroke-width="0.55" font-size="34" text-anchor="end">R10</text><rect x="1713.4" y="565.8" width="499.9" height="48.0" fill="#74A78E" stroke="#000" stroke-width="4.4"/><text x="2206.4" y="603.6" font-family="Liberation Sans, sans-serif" stroke="#000" stroke-width="0.55" font-size="37.2" text-anchor="end">80</text><line x1="1672.7" y1="589.8" x2="1682.2" y2="589.8" stroke="#000" stroke-width="4.4"/><text x="1664.3" y="602.0" font-family="Liberation Sans, sans-serif" stroke="#000" stroke-width="0.55" font-size="34" text-anchor="end">R11</text><rect x="1713.4" y="619.9" width="364.3" height="48.0" fill="#3E5AB6" stroke="#000" stroke-width="4.4"/><text x="2070.8" y="657.7" font-family="Liberation Sans, sans-serif" stroke="#000" stroke-width="0.55" font-size="37.2" text-anchor="end">58</text><line x1="1672.7" y1="643.9" x2="1682.2" y2="643.9" stroke="#000" stroke-width="4.4"/><text x="1664.3" y="656.1" font-family="Liberation Sans, sans-serif" stroke="#000" stroke-width="0.55" font-size="34" text-anchor="end">R12</text><rect x="1713.4" y="674.0" width="505.1" height="48.0" fill="#F6E8DD" stroke="#000" stroke-width="4.4"/><text x="2211.6" y="711.8" font-family="Liberation Sans, sans-serif" stroke="#000" stroke-width="0.55" font-size="37.2" text-anchor="end">81</text><line x1="1672.7" y1="698.0" x2="1682.2" y2="698.0" stroke="#000" stroke-width="4.4"/><text x="1664.3" y="710.2" font-family="Liberation Sans, sans-serif" stroke="#000" stroke-width="0.55" font-size="34" text-anchor="end">R13</text><rect x="1713.4" y="728.1" width="599.5" height="48.0" fill="#727C5B" stroke="#000" stroke-width="4.4"/><text x="2306.0" y="765.9" font-family="Liberation Sans, sans-serif" stroke="#000" stroke-width="0.55" font-size="37.2" text-anchor="end">96</text><line x1="1672.7" y1="752.1" x2="1682.2" y2="752.1" stroke="#000" stroke-width="4.4"/><text x="1664.3" y="764.3" font-family="Liberation Sans, sans-serif" stroke="#000" stroke-width="0.55" font-size="34" text-anchor="end">R14</text><line x1="1682.2" y1="14.3" x2="1682.2" y2="786.7" stroke="#000" stroke-width="4.4"/><line x1="1680.0" y1="784.5" x2="2370.7" y2="784.5" stroke="#000" stroke-width="4.4"/><line x1="1713.0" y1="784.5" x2="1713.0" y2="793.5" stroke="#000" stroke-width="4.4"/><text x="1713.0" y="826.3" font-family="Liberation Sans, sans-serif" stroke="#000" stroke-width="0.55" font-size="34" text-anchor="middle">0</text><line x1="1869.2" y1="784.5" x2="1869.2" y2="793.5" stroke="#000" stroke-width="4.4"/><text x="1869.2" y="826.3" font-family="Liberation Sans, sans-serif" stroke="#000" stroke-width="0.55" font-size="34" text-anchor="middle">25</text><line x1="2025.4" y1="784.5" x2="2025.4" y2="793.5" stroke="#000" stroke-width="4.4"/><text x="2025.4" y="826.3" font-family="Liberation Sans, sans-serif" stroke="#000" stroke-width="0.55" font-size="34" text-anchor="middle">50</text><line x1="2181.6" y1="784.5" x2="2181.6" y2="793.5" stroke="#000" stroke-width="4.4"/><text x="2181.6" y="826.3" font-family="Liberation Sans, sans-serif" stroke="#000" stroke-width="0.55" font-size="34" text-anchor="middle">75</text><line x1="2337.8" y1="784.5" x2="2337.8" y2="793.5" stroke="#000" stroke-width="4.4"/><text x="2337.8" y="826.3" font-family="Liberation Sans, sans-serif" stroke="#000" stroke-width="0.55" font-size="34" text-anchor="middle">100</text><text x="2025.4" y="870.2" font-family="Liberation Sans, sans-serif" stroke="#000" stroke-width="0.55" font-size="37.3" text-anchor="middle">Color Rendering Index</text><text transform="translate(1586,401) rotate(-90)" font-family="Liberation Sans, sans-serif" stroke="#000" stroke-width="0.55" font-size="37.3" text-anchor="middle">Reference Color</text></svg>
<div style="position:absolute;left:11px;top:949.3px;width:2378px;height:4.2px;background:#A8A8A8"></div><div style="position:absolute;left:11px;top:1079.9px;width:2378px;height:4.2px;background:#D3D3D3"></div><div style="position:absolute;left:11px;top:1170.4px;width:2378px;height:2.2px;background:#D3D3D3"></div><div style="position:absolute;left:11px;top:1259.8px;width:2378px;height:2.2px;background:#D3D3D3"></div><div style="position:absolute;left:11px;top:1348.3px;width:2378px;height:2.2px;background:#D3D3D3"></div><div style="position:absolute;left:11px;top:1430.1px;width:2378px;height:2.2px;background:#D3D3D3"></div><div style="position:absolute;left:11px;top:1511.5px;width:2378px;height:4.2px;background:#D3D3D3"></div><div style="position:absolute;left:11px;top:1629.9px;width:2378px;height:4.2px;background:#A8A8A8"></div><div style="position:absolute;left:1608.7px;top:1082px;width:4.2px;height:431px;background:#D3D3D3"></div><div style="position:absolute;left:23px;top:961.0px;height:60px;line-height:60px;font-size:45.5px;font-weight:700;letter-spacing:-0.35px;color:#333;white-space:pre;">Light Spectrum</div><div style="position:absolute;left:23px;top:1020.5px;height:60px;line-height:60px;font-size:31.5px;font-weight:700;letter-spacing:0.4px;color:#333;white-space:pre;">Photometry</div><div style="position:absolute;right:23.59999999999991px;top:1020.0px;height:60px;line-height:60px;font-size:31.5px;font-weight:400;letter-spacing:0.2px;color:#333;white-space:pre;">created with <b>LiTG Spectran</b></div><div style="position:absolute;left:23px;top:1098.6px;height:60px;line-height:60px;font-size:36.5px;font-weight:400;letter-spacing:0.1px;color:#333;white-space:pre;">Illuminance</div><div style="position:absolute;left:1625.5px;top:1095.1px;height:60px;line-height:60px;font-size:36.5px;font-weight:400;letter-spacing:-0.8px;color:#333;white-space:pre;">E<sub>v</sub></div><div style="position:absolute;right:294px;top:1098.6px;height:60px;line-height:60px;font-size:36.5px;font-weight:400;letter-spacing:1.0px;color:#333;white-space:pre;">2 218</div><div style="position:absolute;left:2129px;top:1098.6px;height:60px;line-height:60px;font-size:36.5px;font-weight:400;letter-spacing:0.3px;color:#333;white-space:pre;">lx</div><div style="position:absolute;left:23px;top:1187.5px;height:60px;line-height:60px;font-size:36.5px;font-weight:400;letter-spacing:0.4px;color:#333;white-space:pre;">photopically weighted Irradiance</div><div style="position:absolute;left:1625.5px;top:1184.0px;height:60px;line-height:60px;font-size:36.5px;font-weight:400;letter-spacing:-0.8px;color:#333;white-space:pre;">E<sub>e,v</sub></div><div style="position:absolute;right:294px;top:1187.5px;height:60px;line-height:60px;font-size:36.5px;font-weight:400;letter-spacing:1.0px;color:#333;white-space:pre;">3 248</div><div style="position:absolute;left:2129px;top:1187.5px;height:60px;line-height:60px;font-size:36.5px;font-weight:400;letter-spacing:-0.6px;color:#333;white-space:pre;">mW/m²</div><div style="position:absolute;left:23px;top:1276.8px;height:60px;line-height:60px;font-size:36.5px;font-weight:400;letter-spacing:0.53px;color:#333;white-space:pre;">Ratio Irradiance: photopic to total (380-780nm)</div><div style="position:absolute;left:1625.5px;top:1273.3px;height:60px;line-height:60px;font-size:36.5px;font-weight:400;letter-spacing:-0.8px;color:#333;white-space:pre;">E<sub>e,v</sub>/E<sub>e</sub></div><div style="position:absolute;right:294px;top:1276.8px;height:60px;line-height:60px;font-size:36.5px;font-weight:400;letter-spacing:1.0px;color:#333;white-space:pre;">0,488</div><div style="position:absolute;left:23px;top:1361.8px;height:60px;line-height:60px;font-size:36.5px;font-weight:400;letter-spacing:0.3px;color:#333;white-space:pre;">Correlated Color Temperature</div><div style="position:absolute;left:1625.5px;top:1361.8px;height:60px;line-height:60px;font-size:36.5px;font-weight:400;letter-spacing:-1.7px;color:#333;white-space:pre;">CCT</div><div style="position:absolute;right:294px;top:1361.8px;height:60px;line-height:60px;font-size:36.5px;font-weight:400;letter-spacing:1.0px;color:#333;white-space:pre;">3 812</div><div style="position:absolute;left:2129px;top:1361.8px;height:60px;line-height:60px;font-size:36.5px;font-weight:400;letter-spacing:0px;color:#333;white-space:pre;">K</div><div style="position:absolute;left:23px;top:1443.8px;height:60px;line-height:60px;font-size:36.5px;font-weight:400;letter-spacing:-0.06px;color:#333;white-space:pre;">Color Rendering Index</div><div style="position:absolute;left:1625.5px;top:1443.8px;height:60px;line-height:60px;font-size:36.5px;font-weight:400;letter-spacing:-1.7px;color:#333;white-space:pre;">CRI</div><div style="position:absolute;right:294px;top:1443.8px;height:60px;line-height:60px;font-size:36.5px;font-weight:400;letter-spacing:1.0px;color:#333;white-space:pre;">82</div><div style="position:absolute;left:23px;top:1515.8px;height:60px;line-height:60px;font-size:33px;font-weight:400;letter-spacing:0.49px;color:#333;white-space:pre;">The photopic weighing is performed with the CIE 1924 V(λ)-function for the 2° Standard Observer.</div><div style="position:absolute;left:23px;top:1572.7px;height:60px;line-height:60px;font-size:33px;font-weight:400;letter-spacing:0.08px;color:#333;white-space:pre;">Calculations use the package<span style="color:#0000EE;text-decoration:underline"> colorSpec. </span>CIE limits for CRI and CCT are used.</div>
</body></html>
